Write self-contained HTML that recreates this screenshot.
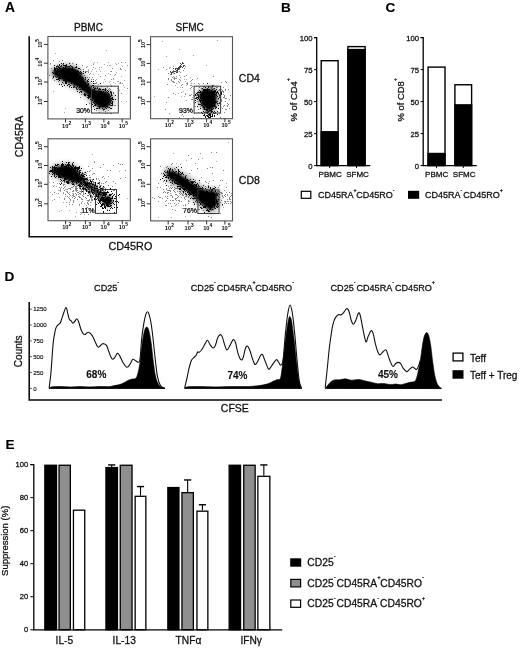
<!DOCTYPE html>
<html><head><meta charset="utf-8"><style>
html,body{margin:0;padding:0;background:#fff;}
svg{display:block;font-family:"Liberation Sans", sans-serif;will-change:transform;}
</style></head><body>
<svg width="520" height="649" viewBox="0 0 520 649">
<defs><filter id="gb" x="0" y="0" width="100%" height="100%"><feGaussianBlur stdDeviation="0.3"/></filter></defs>
<g filter="url(#gb)">
<rect width="520" height="649" fill="#fff"/>
<text x="4.9" y="12.4" font-size="13.8" text-anchor="start" font-weight="bold" fill="#000" stroke="#000" stroke-width="0.12">A</text>
<text x="74" y="30.5" font-size="10" text-anchor="start" fill="#111" stroke="#111" stroke-width="0.28">PBMC</text>
<text x="175.5" y="30.5" font-size="10" text-anchor="start" fill="#111" stroke="#111" stroke-width="0.28">SFMC</text>
<text x="238.8" y="82" font-size="10.5" text-anchor="start" fill="#111" stroke="#111" stroke-width="0.28">CD4</text>
<text x="238.8" y="184" font-size="10.5" text-anchor="start" fill="#111" stroke="#111" stroke-width="0.28">CD8</text>
<text x="22.6" y="136.4" font-size="10.5" text-anchor="middle" fill="#111" transform="rotate(-90 22.6 136.4)" stroke="#111" stroke-width="0.28">CD45RA</text>
<text x="108.5" y="250" font-size="10.8" text-anchor="start" fill="#111" stroke="#111" stroke-width="0.28">CD45RO</text>
<path d="M29.2 36.2V236.7H232.6" fill="none" stroke="#111" stroke-width="1.6"/>
<defs><filter id="bl" x="-5%" y="-5%" width="110%" height="110%"><feGaussianBlur stdDeviation="0.55"/></filter><filter id="bl2" x="-20%" y="-20%" width="140%" height="140%"><feGaussianBlur stdDeviation="1.1"/></filter><filter id="bl3" x="-30%" y="-30%" width="160%" height="160%"><feGaussianBlur stdDeviation="2.2"/></filter></defs>
<clipPath id="cp4"><rect x="48.4" y="37.0" width="81.5" height="81.4"/></clipPath>
<g clip-path="url(#cp4)">
<g filter="url(#bl)">
<path d="M52 72.5h1M71 74.5h1M99 88.5h1M91 89.5h1M61 71.5h1M66 82.5h1M99 108.5h1M56 72.5h1M112 97.5h1M102 101.5h1M97 108.5h1M108 103.5h1M93 87.5h1M64 65.5h1M94 105.5h1M60 78.5h1M98 97.5h1M112 103.5h1M83 82.5h1M111 98.5h1M68 66.5h1M106 101.5h1M57 66.5h1M77 74.5h1M68 74.5h1M99 94.5h1M53 73.5h1M78 83.5h1M99 107.5h1M79 78.5h1M110 99.5h1M96 94.5h1M62 75.5h1M66 78.5h1M103 102.5h1M66 73.5h1M63 70.5h1M95 105.5h1M75 78.5h1M112 102.5h1M64 78.5h1M63 74.5h1M80 71.5h1M66 65.5h1M58 66.5h1M84 83.5h1M84 94.5h1M81 72.5h1M111 108.5h1M72 69.5h1M78 73.5h1M58 67.5h1M66 64.5h1M84 84.5h1M75 80.5h1M103 93.5h1M101 99.5h1M102 89.5h1M77 79.5h1M77 82.5h1M77 82.5h1M100 92.5h1M65 78.5h1M76 71.5h1M78 78.5h1M68 84.5h1M63 65.5h1M111 103.5h1M105 88.5h1M82 88.5h1M90 93.5h1M83 86.5h1M68 77.5h1M103 89.5h1M62 75.5h1M74 81.5h1M56 68.5h1M64 65.5h1M106 98.5h1M111 93.5h1M100 93.5h1M105 104.5h1M86 94.5h1M111 92.5h1M111 105.5h1M86 71.5h1M65 70.5h1M110 102.5h1M56 66.5h1M65 67.5h1M65 66.5h1M82 79.5h1M55 68.5h1M65 72.5h1M61 65.5h1M99 106.5h1M87 81.5h1M71 79.5h1M95 101.5h1M87 97.5h1M83 94.5h1M95 88.5h1M92 98.5h1M73 80.5h1M59 78.5h1M88 96.5h1M94 88.5h1M73 75.5h1M104 103.5h1M66 75.5h1M76 83.5h1M73 75.5h1M101 99.5h1M67 69.5h1M96 101.5h1M93 102.5h1M76 76.5h1M88 81.5h1M78 74.5h1M71 73.5h1M67 70.5h1M100 98.5h1M69 81.5h1M63 67.5h1M63 72.5h1M112 101.5h1M87 84.5h1M100 102.5h1M78 73.5h1M53 76.5h1M103 103.5h1M72 71.5h1M94 95.5h1M86 104.5h1M80 79.5h1M103 106.5h1M64 80.5h1M100 106.5h1M111 91.5h1M85 72.5h1M74 83.5h1M70 78.5h1M88 95.5h1M107 102.5h1M63 78.5h1M85 86.5h1M69 84.5h1M74 86.5h1M112 99.5h1M68 79.5h1M72 76.5h1M68 73.5h1M90 93.5h1M78 84.5h1M95 100.5h1M96 108.5h1M105 92.5h1M80 82.5h1M107 90.5h1M89 91.5h1M110 105.5h1M88 83.5h1M95 98.5h1M70 71.5h1M63 80.5h1M70 73.5h1M91 99.5h1M87 80.5h1M90 92.5h1M71 79.5h1M87 95.5h1M113 99.5h1M115 95.5h1M52 78.5h1M70 65.5h1M89 96.5h1M89 95.5h1M111 100.5h1M88 83.5h1M56 68.5h1M108 91.5h1M105 96.5h1M102 108.5h1M93 87.5h1M67 66.5h1M56 72.5h1M114 105.5h1M99 89.5h1M83 86.5h1M69 86.5h1M82 81.5h1M93 85.5h1M87 82.5h1M91 94.5h1M109 107.5h1M79 85.5h1M111 95.5h1M91 95.5h1M71 74.5h1M60 66.5h1M54 70.5h1M64 78.5h1M68 77.5h1M56 68.5h1M80 91.5h1M92 100.5h1M70 65.5h1M60 72.5h1M98 101.5h1M72 79.5h1M74 83.5h1M105 103.5h1M85 78.5h1M103 100.5h1M96 93.5h1M82 89.5h1M56 68.5h1M87 82.5h1M99 100.5h1M102 108.5h1M62 82.5h1M93 106.5h1M59 67.5h1M96 94.5h1M58 66.5h1M71 87.5h1M100 99.5h1M75 87.5h1M80 77.5h1M77 91.5h1M66 83.5h1M65 73.5h1M59 64.5h1M76 84.5h1M77 81.5h1M99 98.5h1M82 77.5h1M100 88.5h1M74 79.5h1M110 91.5h1M91 86.5h1M79 80.5h1M57 76.5h1M85 79.5h1M104 109.5h1M66 75.5h1M79 89.5h1M59 84.5h1M72 67.5h1M61 63.5h1M54 67.5h1M94 90.5h1M94 101.5h1M108 96.5h1M92 98.5h1M82 84.5h1M78 83.5h1M62 78.5h1M76 64.5h1M96 100.5h1M58 74.5h1M82 80.5h1M77 73.5h1M107 92.5h1M55 69.5h1M61 84.5h1M108 102.5h1M100 97.5h1M81 74.5h1M77 89.5h1M84 95.5h1M65 79.5h1M65 65.5h1M108 107.5h1M71 70.5h1M54 70.5h1M88 84.5h1M57 66.5h1M63 71.5h1M76 82.5h1M107 106.5h1M73 87.5h1M112 98.5h1M100 94.5h1M77 83.5h1M66 81.5h1M67 77.5h1M87 89.5h1M93 96.5h1M93 89.5h1M58 72.5h1M76 66.5h1M115 99.5h1M102 106.5h1M69 63.5h1M101 86.5h1M96 97.5h1M73 73.5h1M86 90.5h1M83 78.5h1M72 68.5h1M80 79.5h1M108 91.5h1M70 81.5h1M55 69.5h1M75 82.5h1M53 77.5h1M79 77.5h1M85 95.5h1M100 83.5h1M71 72.5h1M56 77.5h1M103 109.5h1M93 95.5h1M111 103.5h1M58 72.5h1M74 82.5h1M97 96.5h1M97 97.5h1M93 96.5h1M74 74.5h1M83 89.5h1M103 91.5h1M105 90.5h1M74 85.5h1M71 83.5h1M85 82.5h1M77 71.5h1M95 94.5h1M87 89.5h1M58 79.5h1M106 108.5h1M56 79.5h1M80 89.5h1M55 76.5h1M99 91.5h1M71 75.5h1M91 100.5h1M81 92.5h1M94 105.5h1M58 74.5h1M57 69.5h1M85 77.5h1M101 95.5h1M77 78.5h1M66 75.5h1M84 95.5h1M109 104.5h1M88 84.5h1M62 72.5h1M63 63.5h1M52 78.5h1M76 87.5h1M91 94.5h1M79 84.5h1M76 67.5h1M100 100.5h1M104 90.5h1M110 108.5h1M62 86.5h1M72 79.5h1M59 65.5h1M70 85.5h1M76 71.5h1M92 85.5h1M84 93.5h1M71 83.5h1M101 91.5h1M78 74.5h1M80 80.5h1M54 65.5h1M67 85.5h1M75 67.5h1M58 78.5h1M99 94.5h1M58 72.5h1M112 105.5h1M69 76.5h1M76 72.5h1M67 69.5h1M65 65.5h1M103 91.5h1M65 70.5h1M78 68.5h1M107 99.5h1M73 82.5h1M91 94.5h1M111 94.5h1M57 79.5h1M88 90.5h1M97 88.5h1M99 96.5h1M106 106.5h1M59 80.5h1M59 79.5h1M79 87.5h1M52 72.5h1M80 78.5h1M98 89.5h1M96 92.5h1M109 94.5h1M99 106.5h1M94 96.5h1M82 89.5h1M101 98.5h1M80 71.5h1M95 102.5h1M69 79.5h1M98 99.5h1M59 68.5h1M83 73.5h1M98 94.5h1M83 85.5h1M66 82.5h1M103 100.5h1M73 82.5h1M65 83.5h1M111 93.5h1M54 68.5h1M80 73.5h1M92 104.5h1M95 99.5h1M88 95.5h1M87 92.5h1M95 97.5h1M65 75.5h1M74 71.5h1M58 75.5h1M88 81.5h1M105 102.5h1M65 82.5h1M85 94.5h1M105 89.5h1M97 99.5h1M61 75.5h1M65 80.5h1M109 100.5h1M110 92.5h1M96 92.5h1M76 87.5h1M65 81.5h1M67 66.5h1M57 66.5h1M112 104.5h1M84 85.5h1M94 109.5h1M95 93.5h1M67 77.5h1M105 104.5h1M96 99.5h1M76 88.5h1M108 93.5h1M91 81.5h1M98 98.5h1M77 86.5h1M80 81.5h1M96 108.5h1M76 84.5h1M95 104.5h1M95 97.5h1M83 87.5h1M58 66.5h1M60 68.5h1M79 92.5h1M94 103.5h1M79 68.5h1M69 68.5h1M105 107.5h1M74 75.5h1M94 89.5h1M100 88.5h1M99 98.5h1M54 70.5h1M102 101.5h1M110 96.5h1M102 94.5h1M84 84.5h1M93 83.5h1M104 105.5h1M74 73.5h1M58 72.5h1M74 77.5h1M69 78.5h1M83 85.5h1M66 82.5h1M64 80.5h1M79 79.5h1M90 99.5h1M89 97.5h1M88 79.5h1M66 66.5h1M100 91.5h1M71 66.5h1M87 87.5h1M88 98.5h1M78 84.5h1M89 92.5h1M78 71.5h1M82 80.5h1M66 76.5h1M83 71.5h1M56 71.5h1M93 81.5h1M88 91.5h1M55 74.5h1M88 97.5h1M93 94.5h1M104 106.5h1M66 65.5h1M54 69.5h1M77 71.5h1M85 83.5h1M79 72.5h1M90 90.5h1M74 74.5h1M66 66.5h1M82 82.5h1M91 109.5h1M98 106.5h1M100 89.5h1M90 93.5h1M59 77.5h1M64 85.5h1M81 91.5h1M75 80.5h1M77 70.5h1M75 74.5h1M63 65.5h1M78 79.5h1M62 78.5h1M59 78.5h1M72 66.5h1M103 89.5h1M100 88.5h1M69 66.5h1M76 73.5h1M81 81.5h1M82 85.5h1M61 65.5h1M74 84.5h1M57 68.5h1M103 99.5h1M101 100.5h1M64 80.5h1M62 77.5h1M76 77.5h1M59 67.5h1M97 87.5h1M90 92.5h1" stroke="#111" stroke-width="1" fill="none"/>
<path d="M95 87.5h1M77 83.5h1M98 90.5h1M106 91.5h1M108 89.5h1M72 74.5h1M55 70.5h1M93 91.5h1M63 83.5h1M70 78.5h1M103 110.5h1M114 105.5h1M91 93.5h1M108 110.5h1M63 68.5h1M50 63.5h1M107 107.5h1M104 102.5h1M59 61.5h1M81 89.5h1M78 88.5h1M98 108.5h1M72 63.5h1M96 97.5h1M96 88.5h1M66 74.5h1M74 87.5h1M69 87.5h1M81 73.5h1M80 72.5h1M72 66.5h1M77 85.5h1M57 65.5h1M62 64.5h1M75 85.5h1M63 64.5h1M102 104.5h1M97 106.5h1M92 102.5h1M99 112.5h1M51 68.5h1M67 66.5h1M76 81.5h1M58 81.5h1M82 73.5h1M75 72.5h1M62 71.5h1M55 71.5h1M94 98.5h1M81 80.5h1M85 78.5h1M109 88.5h1M83 69.5h1M110 113.5h1M98 84.5h1M49 75.5h1M61 75.5h1M108 107.5h1M82 65.5h1M105 111.5h1M62 73.5h1M52 78.5h1M87 82.5h1M88 94.5h1M109 98.5h1M106 99.5h1M68 72.5h1M72 66.5h1M111 113.5h1M105 113.5h1M54 80.5h1M94 87.5h1M94 96.5h1M81 94.5h1M71 73.5h1M96 110.5h1M83 94.5h1M76 89.5h1M104 89.5h1M56 67.5h1M86 94.5h1M62 60.5h1M90 96.5h1M75 87.5h1M113 93.5h1M88 72.5h1M107 113.5h1M84 83.5h1M96 105.5h1M81 83.5h1M74 71.5h1M85 71.5h1M101 104.5h1M61 71.5h1M89 103.5h1M58 77.5h1M71 78.5h1M115 105.5h1M74 85.5h1M112 95.5h1M98 94.5h1M73 85.5h1M91 88.5h1M61 66.5h1M60 73.5h1M73 86.5h1M53 60.5h1M62 69.5h1M87 92.5h1M80 69.5h1M96 98.5h1M59 79.5h1M62 76.5h1M74 81.5h1M80 97.5h1M84 75.5h1M71 76.5h1M82 87.5h1M107 98.5h1M105 75.5h1M112 68.5h1M94 83.5h1M127 65.5h1M113 78.5h1M86 67.5h1M98 84.5h1M90 73.5h1M111 86.5h1M127 88.5h1M93 79.5h1M111 79.5h1M110 74.5h1M95 83.5h1M122 83.5h1M113 92.5h1M95 80.5h1M120 82.5h1M85 78.5h1M120 68.5h1M101 93.5h1M104 79.5h1M110 89.5h1M104 90.5h1M115 74.5h1M111 71.5h1M87 77.5h1M86 71.5h1M121 93.5h1M93 67.5h1M100 76.5h1M91 87.5h1M91 79.5h1M96 82.5h1M89 77.5h1M121 62.5h1M93 64.5h1M120 83.5h1M95 90.5h1M92 77.5h1" stroke="#888" stroke-width="1" fill="none"/>
<path d="M106 89.5h1M55 53.5h1M64 112.5h1M120 69.5h1M53 91.5h1M65 108.5h1M121 101.5h1M110 101.5h1M114 75.5h1M106 50.5h1M104 79.5h1M126 101.5h1M85 96.5h1M95 90.5h1M50 64.5h1M96 83.5h1M124 80.5h1M117 81.5h1M92 69.5h1M110 84.5h1M103 82.5h1M100 71.5h1M93 74.5h1M110 65.5h1M125 62.5h1M116 72.5h1M125 70.5h1M87 82.5h1M101 86.5h1M114 75.5h1M113 82.5h1M99 67.5h1M113 79.5h1M87 66.5h1M104 64.5h1M108 73.5h1M98 84.5h1M116 64.5h1M111 91.5h1M111 91.5h1M95 68.5h1M99 69.5h1M92 69.5h1M107 86.5h1M118 63.5h1M118 81.5h1M97 62.5h1M122 66.5h1M96 71.5h1M119 90.5h1M124 87.5h1M121 76.5h1M88 69.5h1M91 65.5h1M91 71.5h1M88 70.5h1M121 69.5h1M107 87.5h1M86 83.5h1M108 62.5h1M123 85.5h1M90 90.5h1M110 81.5h1M94 62.5h1M115 83.5h1M93 63.5h1M110 71.5h1M100 88.5h1M109 65.5h1M115 83.5h1M109 90.5h1M105 81.5h1M88 71.5h1M98 74.5h1M107 65.5h1M115 63.5h1M96 79.5h1M87 71.5h1M119 83.5h1M101 67.5h1M117 88.5h1M89 74.5h1M109 82.5h1M94 86.5h1M111 85.5h1" stroke="#aaa" stroke-width="1" fill="none"/>
</g>
<g filter="url(#bl3)"><path d="M52.8 71.3L57.1 68.7L62.3 67.0L69.2 67.0L74.4 67.9L77.9 70.5L81.3 74.8L85.7 80.9L90.0 86.0L92.6 89.5L100.4 90.4L107.3 92.1L110.8 95.6L111.6 100.8L109.9 105.1L106.4 107.7L100.4 107.7L95.2 104.2L91.7 99.0L86.5 93.8L81.3 89.5L76.2 86.0L71.0 83.5L64.0 80.9L58.0 77.4L53.7 74.8Z" fill="#000" stroke="#000" stroke-width="7" stroke-linejoin="round" opacity="0.28"/></g>
<g filter="url(#bl2)"><path d="M52.8 71.3L57.1 68.7L62.3 67.0L69.2 67.0L74.4 67.9L77.9 70.5L81.3 74.8L85.7 80.9L90.0 86.0L92.6 89.5L100.4 90.4L107.3 92.1L110.8 95.6L111.6 100.8L109.9 105.1L106.4 107.7L100.4 107.7L95.2 104.2L91.7 99.0L86.5 93.8L81.3 89.5L76.2 86.0L71.0 83.5L64.0 80.9L58.0 77.4L53.7 74.8Z" fill="#000"/></g>
</g>
<rect x="47.9" y="36.5" width="82.5" height="82.4" fill="none" stroke="#555" stroke-width="1.1"/>
<rect x="91.4" y="86.2" width="26.89999999999999" height="26.799999999999997" fill="none" stroke="#3a3a3a" stroke-width="1"/>
<text x="76.2" y="112.9" font-size="6.9" text-anchor="start" fill="#000" stroke="#000" stroke-width="0.22">30%</text>
<line x1="65.5" y1="118.9" x2="65.5" y2="122.5" stroke="#333" stroke-width="1"/>
<text x="65.2" y="127.6" font-size="5.7" font-weight="bold" text-anchor="middle" fill="#111">10</text><text x="68.5" y="124.6" font-size="4.8" font-weight="bold" fill="#000">2</text>
<line x1="85.3" y1="118.9" x2="85.3" y2="122.5" stroke="#333" stroke-width="1"/>
<text x="85.0" y="127.6" font-size="5.7" font-weight="bold" text-anchor="middle" fill="#111">10</text><text x="88.3" y="124.6" font-size="4.8" font-weight="bold" fill="#000">3</text>
<line x1="103.9" y1="118.9" x2="103.9" y2="122.5" stroke="#333" stroke-width="1"/>
<text x="103.6" y="127.6" font-size="5.7" font-weight="bold" text-anchor="middle" fill="#111">10</text><text x="106.9" y="124.6" font-size="4.8" font-weight="bold" fill="#000">4</text>
<line x1="122.19999999999999" y1="118.9" x2="122.19999999999999" y2="122.5" stroke="#333" stroke-width="1"/>
<text x="121.9" y="127.6" font-size="5.7" font-weight="bold" text-anchor="middle" fill="#111">10</text><text x="125.2" y="124.6" font-size="4.8" font-weight="bold" fill="#000">5</text>
<line x1="43.9" y1="44.4" x2="47.9" y2="44.4" stroke="#333" stroke-width="1"/>
<g transform="translate(42.3 44.7) rotate(-90)"><text x="0" y="0" font-size="5.7" font-weight="bold" text-anchor="middle" fill="#111">10</text><text x="3.0" y="-3.0" font-size="4.8" font-weight="bold" fill="#000">5</text></g>
<line x1="43.9" y1="63.2" x2="47.9" y2="63.2" stroke="#333" stroke-width="1"/>
<g transform="translate(42.3 63.5) rotate(-90)"><text x="0" y="0" font-size="5.7" font-weight="bold" text-anchor="middle" fill="#111">10</text><text x="3.0" y="-3.0" font-size="4.8" font-weight="bold" fill="#000">4</text></g>
<line x1="43.9" y1="82.0" x2="47.9" y2="82.0" stroke="#333" stroke-width="1"/>
<g transform="translate(42.3 82.3) rotate(-90)"><text x="0" y="0" font-size="5.7" font-weight="bold" text-anchor="middle" fill="#111">10</text><text x="3.0" y="-3.0" font-size="4.8" font-weight="bold" fill="#000">3</text></g>
<line x1="43.9" y1="101.5" x2="47.9" y2="101.5" stroke="#333" stroke-width="1"/>
<g transform="translate(42.3 101.8) rotate(-90)"><text x="0" y="0" font-size="5.7" font-weight="bold" text-anchor="middle" fill="#111">10</text><text x="3.0" y="-3.0" font-size="4.8" font-weight="bold" fill="#000">2</text></g>
<clipPath id="cs4"><rect x="151.1" y="37.2" width="80.9" height="81.0"/></clipPath>
<g clip-path="url(#cs4)">
<g filter="url(#bl)">
<path d="M210 98.5h1M212 93.5h1M205 111.5h1M198 94.5h1M210 96.5h1M199 99.5h1M212 103.5h1M216 92.5h1M203 109.5h1M212 94.5h1M209 110.5h1M207 113.5h1M198 94.5h1M219 96.5h1M201 104.5h1M221 93.5h1M200 106.5h1M203 89.5h1M197 99.5h1M200 101.5h1M199 92.5h1M204 107.5h1M214 94.5h1M212 93.5h1M202 100.5h1M210 113.5h1M203 93.5h1M209 106.5h1M204 95.5h1M204 91.5h1M215 94.5h1M217 101.5h1M206 90.5h1M201 103.5h1M203 90.5h1M215 102.5h1M201 112.5h1M203 111.5h1M206 110.5h1M209 95.5h1M202 97.5h1M194 96.5h1M215 108.5h1M204 97.5h1M206 89.5h1M213 95.5h1M199 100.5h1M204 108.5h1M200 92.5h1M198 104.5h1M219 103.5h1M203 96.5h1M207 89.5h1M205 87.5h1M208 111.5h1M207 104.5h1M195 98.5h1M214 102.5h1M205 105.5h1M195 95.5h1M196 97.5h1M205 109.5h1M208 107.5h1M209 98.5h1M214 104.5h1M205 102.5h1M203 99.5h1M214 96.5h1M197 92.5h1M195 102.5h1M210 94.5h1M209 93.5h1M205 97.5h1M215 90.5h1M204 90.5h1M197 94.5h1M211 99.5h1M208 87.5h1M199 90.5h1M200 101.5h1M203 90.5h1M200 104.5h1M214 99.5h1M209 97.5h1M211 102.5h1M212 94.5h1M200 92.5h1M210 95.5h1M215 91.5h1M198 98.5h1M216 97.5h1M209 86.5h1M209 106.5h1M210 103.5h1M198 97.5h1M216 97.5h1M201 105.5h1M203 106.5h1M206 105.5h1M203 104.5h1M202 105.5h1M198 98.5h1M204 96.5h1M215 91.5h1M210 110.5h1M211 109.5h1M206 101.5h1M214 90.5h1M197 97.5h1M220 96.5h1M218 108.5h1M207 90.5h1M204 105.5h1M213 88.5h1M196 97.5h1M206 96.5h1M211 106.5h1M216 97.5h1M198 98.5h1M212 85.5h1M208 98.5h1M212 94.5h1M207 110.5h1M209 95.5h1M214 88.5h1M202 103.5h1M205 89.5h1M213 96.5h1M201 100.5h1M208 102.5h1M206 92.5h1M203 97.5h1M207 111.5h1M216 102.5h1M197 106.5h1M207 92.5h1M201 100.5h1M197 97.5h1M199 104.5h1M198 94.5h1M211 99.5h1M209 89.5h1M198 94.5h1M206 109.5h1M205 105.5h1M217 92.5h1M215 104.5h1M217 104.5h1M212 97.5h1M206 99.5h1M209 97.5h1M207 113.5h1M207 99.5h1M208 89.5h1M208 111.5h1M202 97.5h1M200 97.5h1M211 110.5h1M200 102.5h1M211 94.5h1M203 90.5h1M216 97.5h1M214 106.5h1M207 109.5h1M216 107.5h1M209 107.5h1M206 110.5h1M198 92.5h1M209 103.5h1M208 98.5h1M205 98.5h1M215 102.5h1M208 86.5h1M202 106.5h1M202 93.5h1M213 103.5h1M207 105.5h1M204 94.5h1M205 101.5h1M212 98.5h1M209 92.5h1M206 96.5h1M206 112.5h1M214 91.5h1M206 93.5h1M205 90.5h1M205 98.5h1M201 104.5h1M203 95.5h1M207 90.5h1M212 106.5h1M219 95.5h1M218 105.5h1M221 92.5h1M210 110.5h1M210 105.5h1M203 94.5h1M215 104.5h1M213 92.5h1M198 95.5h1M202 88.5h1M202 113.5h1M200 100.5h1M195 100.5h1M213 97.5h1M216 89.5h1M207 88.5h1M207 91.5h1M195 94.5h1M207 97.5h1M205 93.5h1M204 86.5h1M213 96.5h1M205 92.5h1M199 90.5h1M219 97.5h1M206 106.5h1M206 95.5h1M200 94.5h1M217 91.5h1M201 104.5h1M213 105.5h1M216 97.5h1M206 110.5h1M204 94.5h1M199 100.5h1M204 112.5h1M214 92.5h1M212 91.5h1M203 90.5h1M218 93.5h1M213 112.5h1M208 95.5h1M217 92.5h1M205 93.5h1M208 92.5h1M208 93.5h1M212 98.5h1M217 111.5h1M200 91.5h1M214 105.5h1M201 96.5h1M211 98.5h1M217 96.5h1M206 101.5h1M202 88.5h1M203 108.5h1M207 90.5h1M209 101.5h1M207 89.5h1M210 105.5h1M211 93.5h1M207 83.5h1M198 96.5h1M212 93.5h1M205 89.5h1M202 88.5h1M213 98.5h1M200 98.5h1M209 105.5h1M207 89.5h1M214 103.5h1M199 99.5h1M201 94.5h1M202 102.5h1M210 106.5h1M212 89.5h1M221 94.5h1M210 110.5h1M212 86.5h1M200 91.5h1M201 95.5h1M205 93.5h1M207 94.5h1M211 88.5h1M213 105.5h1M203 107.5h1M213 108.5h1M211 87.5h1M209 110.5h1M210 93.5h1M200 101.5h1M207 88.5h1M196 93.5h1M213 108.5h1M216 94.5h1M206 91.5h1M217 103.5h1M208 102.5h1M215 106.5h1M203 98.5h1M212 109.5h1M206 94.5h1M211 94.5h1M204 94.5h1M216 94.5h1M196 98.5h1M209 91.5h1M210 95.5h1M216 93.5h1M204 100.5h1M215 94.5h1M203 103.5h1M207 99.5h1M200 108.5h1M204 109.5h1M208 94.5h1M203 95.5h1M203 104.5h1M207 95.5h1M204 100.5h1M216 95.5h1M202 92.5h1M218 98.5h1M215 101.5h1M220 94.5h1M199 99.5h1M204 89.5h1M204 109.5h1M211 103.5h1M203 115.5h1M214 113.5h1M211 116.5h1M205 117.5h1M211 116.5h1M207 116.5h1M209 114.5h1M210 115.5h1M204 114.5h1M211 111.5h1M212 114.5h1M206 112.5h1M205 116.5h1M207 115.5h1M208 116.5h1M214 116.5h1M212 116.5h1M215 112.5h1M210 113.5h1M210 114.5h1M210 116.5h1M205 109.5h1M210 116.5h1M208 117.5h1M217 114.5h1M209 115.5h1M212 111.5h1M211 110.5h1M206 115.5h1M211 112.5h1M210 117.5h1M204 115.5h1M214 111.5h1M214 115.5h1M208 114.5h1M209 114.5h1M209 113.5h1M209 117.5h1M207 112.5h1M212 115.5h1M211 112.5h1M208 116.5h1" stroke="#111" stroke-width="1" fill="none"/>
<path d="M170 74.5h1M182 62.5h1M173 70.5h1M180 63.5h1M177 71.5h1M177 68.5h1M178 69.5h1M177 70.5h1M180 65.5h1M183 63.5h1M171 74.5h1M184 65.5h1M175 68.5h1M174 73.5h1M182 67.5h1M183 65.5h1M178 68.5h1M181 66.5h1M174 73.5h1M171 73.5h1M180 66.5h1M168 73.5h1M173 68.5h1M171 74.5h1M175 69.5h1M177 71.5h1M173 70.5h1M170 74.5h1M174 71.5h1M175 71.5h1M173 70.5h1M174 73.5h1M183 65.5h1M180 67.5h1M178 67.5h1M180 67.5h1M175 71.5h1M170 71.5h1M179 67.5h1M183 66.5h1M179 68.5h1M173 71.5h1M176 68.5h1M174 73.5h1M172 72.5h1M172 72.5h1M171 73.5h1M173 71.5h1M181 64.5h1M174 71.5h1M177 69.5h1M171 72.5h1M172 72.5h1M182 63.5h1M172 72.5h1M173 70.5h1M179 66.5h1M176 70.5h1M177 72.5h1M176 72.5h1" stroke="#444" stroke-width="1" fill="none"/>
<path d="M211 99.5h1M213 94.5h1M208 94.5h1M214 96.5h1M217 87.5h1M224 96.5h1M198 103.5h1M215 105.5h1M212 92.5h1M206 105.5h1M202 103.5h1M202 104.5h1M213 99.5h1M215 107.5h1M220 95.5h1M209 100.5h1M202 94.5h1M203 87.5h1M198 94.5h1M219 96.5h1M198 91.5h1M208 112.5h1M199 87.5h1M209 111.5h1M213 76.5h1M211 108.5h1M210 111.5h1M216 94.5h1M205 112.5h1M218 90.5h1M213 88.5h1M213 85.5h1M218 92.5h1M213 92.5h1M213 91.5h1M203 95.5h1M196 95.5h1M223 97.5h1M201 104.5h1M207 111.5h1M194 103.5h1M202 92.5h1M213 113.5h1M192 99.5h1M210 93.5h1M205 103.5h1M213 103.5h1M206 93.5h1M217 104.5h1M191 94.5h1M208 98.5h1M216 87.5h1M213 106.5h1M198 101.5h1M214 90.5h1M199 96.5h1M204 98.5h1M218 94.5h1M202 107.5h1M200 106.5h1M202 106.5h1M215 105.5h1M211 88.5h1M227 106.5h1M211 100.5h1M210 87.5h1M203 95.5h1M198 109.5h1M194 92.5h1M211 87.5h1M216 101.5h1M202 97.5h1M224 112.5h1M210 100.5h1M205 100.5h1M219 113.5h1M219 102.5h1M203 109.5h1M213 105.5h1M216 97.5h1M206 111.5h1M215 103.5h1M205 111.5h1M197 93.5h1M216 106.5h1M218 99.5h1M220 89.5h1M173 76.5h1M186 75.5h1M174 79.5h1M176 76.5h1M173 66.5h1M184 68.5h1M170 72.5h1M170 74.5h1M176 71.5h1M172 77.5h1M184 76.5h1M168 78.5h1M176 78.5h1M179 69.5h1M166 69.5h1M183 70.5h1M185 66.5h1M179 71.5h1M168 73.5h1M173 70.5h1M163 67.5h1M172 71.5h1M171 80.5h1M173 72.5h1M174 77.5h1M180 72.5h1M190 88.5h1M178 81.5h1M173 81.5h1M192 79.5h1M173 82.5h1M187 84.5h1M174 78.5h1M191 80.5h1M191 87.5h1M167 84.5h1M180 77.5h1M176 78.5h1M191 85.5h1M179 82.5h1M186 83.5h1M172 81.5h1M190 95.5h1M174 79.5h1M180 80.5h1M179 79.5h1M168 79.5h1M191 94.5h1M197 78.5h1M176 76.5h1M196 95.5h1M190 85.5h1M198 83.5h1M197 95.5h1M182 87.5h1M191 83.5h1M180 80.5h1M185 94.5h1M171 79.5h1M182 84.5h1M187 83.5h1M174 82.5h1M194 96.5h1M181 85.5h1M192 86.5h1M221 82.5h1M212 87.5h1M190 81.5h1M223 87.5h1M190 111.5h1M191 99.5h1M203 108.5h1M194 113.5h1M179 117.5h1M165 109.5h1M198 112.5h1M175 78.5h1M215 92.5h1M182 111.5h1M203 83.5h1M202 100.5h1M168 97.5h1M203 83.5h1M223 91.5h1M201 88.5h1M193 117.5h1M189 95.5h1M181 92.5h1M183 116.5h1M225 81.5h1M215 113.5h1M208 115.5h1M182 114.5h1M215 104.5h1M195 106.5h1M226 82.5h1M166 102.5h1M169 113.5h1M220 117.5h1M173 93.5h1M218 103.5h1M219 90.5h1M220 91.5h1M229 108.5h1M227 103.5h1M223 92.5h1M220 89.5h1M219 94.5h1M225 89.5h1M225 98.5h1M221 89.5h1M223 106.5h1M227 103.5h1M221 91.5h1M228 89.5h1M224 95.5h1M220 89.5h1M221 100.5h1M224 105.5h1M226 109.5h1M220 94.5h1M222 91.5h1M221 99.5h1M223 94.5h1M228 104.5h1M229 99.5h1M225 101.5h1M230 95.5h1M229 99.5h1M227 105.5h1M221 101.5h1M223 91.5h1M222 108.5h1M222 90.5h1M226 98.5h1M225 90.5h1M224 97.5h1M225 98.5h1M225 109.5h1M219 89.5h1" stroke="#888" stroke-width="1" fill="none"/>
<path d="M179 49.5h1M154 96.5h1M217 40.5h1M166 56.5h1M181 115.5h1M158 69.5h1M193 55.5h1M178 93.5h1M205 100.5h1M206 65.5h1M162 41.5h1M203 100.5h1M196 86.5h1M169 67.5h1M180 87.5h1M193 95.5h1M181 96.5h1M199 84.5h1M198 103.5h1M184 96.5h1M183 91.5h1M197 101.5h1M186 100.5h1M170 67.5h1M177 87.5h1M190 77.5h1M186 79.5h1M176 83.5h1M185 81.5h1M173 73.5h1M194 83.5h1M187 82.5h1M175 85.5h1M186 85.5h1M179 75.5h1M184 79.5h1M169 68.5h1M185 93.5h1M192 97.5h1M173 78.5h1M175 94.5h1M199 84.5h1" stroke="#aaa" stroke-width="1" fill="none"/>
</g>
<g filter="url(#bl3)"><path d="M200.0 93.1L202.0 90.8L205.4 89.6L210.0 89.5L214.6 90.0L216.4 95.4L216.4 101.5L214.2 107.2L210.2 110.5L207.5 110.6L203.8 106.8L200.8 101.5L199.2 96.2Z" fill="#000" stroke="#000" stroke-width="7" stroke-linejoin="round" opacity="0.28"/></g>
<g filter="url(#bl2)"><path d="M200.0 93.1L202.0 90.8L205.4 89.6L210.0 89.5L214.6 90.0L216.4 95.4L216.4 101.5L214.2 107.2L210.2 110.5L207.5 110.6L203.8 106.8L200.8 101.5L199.2 96.2Z" fill="#000"/></g>
</g>
<rect x="150.6" y="36.7" width="81.9" height="82.0" fill="none" stroke="#555" stroke-width="1.1"/>
<rect x="194.1" y="86.2" width="26.5" height="26.799999999999997" fill="none" stroke="#3a3a3a" stroke-width="1"/>
<text x="179.1" y="112.6" font-size="6.9" text-anchor="start" fill="#000" stroke="#000" stroke-width="0.22">93%</text>
<line x1="168.2" y1="118.7" x2="168.2" y2="122.3" stroke="#333" stroke-width="1"/>
<text x="167.9" y="127.4" font-size="5.7" font-weight="bold" text-anchor="middle" fill="#111">10</text><text x="171.2" y="124.4" font-size="4.8" font-weight="bold" fill="#000">2</text>
<line x1="188.0" y1="118.7" x2="188.0" y2="122.3" stroke="#333" stroke-width="1"/>
<text x="187.7" y="127.4" font-size="5.7" font-weight="bold" text-anchor="middle" fill="#111">10</text><text x="191.0" y="124.4" font-size="4.8" font-weight="bold" fill="#000">3</text>
<line x1="206.6" y1="118.7" x2="206.6" y2="122.3" stroke="#333" stroke-width="1"/>
<text x="206.3" y="127.4" font-size="5.7" font-weight="bold" text-anchor="middle" fill="#111">10</text><text x="209.6" y="124.4" font-size="4.8" font-weight="bold" fill="#000">4</text>
<line x1="224.89999999999998" y1="118.7" x2="224.89999999999998" y2="122.3" stroke="#333" stroke-width="1"/>
<text x="224.6" y="127.4" font-size="5.7" font-weight="bold" text-anchor="middle" fill="#111">10</text><text x="227.9" y="124.4" font-size="4.8" font-weight="bold" fill="#000">5</text>
<line x1="146.6" y1="44.6" x2="150.6" y2="44.6" stroke="#333" stroke-width="1"/>
<g transform="translate(145.0 44.9) rotate(-90)"><text x="0" y="0" font-size="5.7" font-weight="bold" text-anchor="middle" fill="#111">10</text><text x="3.0" y="-3.0" font-size="4.8" font-weight="bold" fill="#000">5</text></g>
<line x1="146.6" y1="63.400000000000006" x2="150.6" y2="63.400000000000006" stroke="#333" stroke-width="1"/>
<g transform="translate(145.0 63.7) rotate(-90)"><text x="0" y="0" font-size="5.7" font-weight="bold" text-anchor="middle" fill="#111">10</text><text x="3.0" y="-3.0" font-size="4.8" font-weight="bold" fill="#000">4</text></g>
<line x1="146.6" y1="82.2" x2="150.6" y2="82.2" stroke="#333" stroke-width="1"/>
<g transform="translate(145.0 82.5) rotate(-90)"><text x="0" y="0" font-size="5.7" font-weight="bold" text-anchor="middle" fill="#111">10</text><text x="3.0" y="-3.0" font-size="4.8" font-weight="bold" fill="#000">3</text></g>
<line x1="146.6" y1="101.7" x2="150.6" y2="101.7" stroke="#333" stroke-width="1"/>
<g transform="translate(145.0 102.0) rotate(-90)"><text x="0" y="0" font-size="5.7" font-weight="bold" text-anchor="middle" fill="#111">10</text><text x="3.0" y="-3.0" font-size="4.8" font-weight="bold" fill="#000">2</text></g>
<clipPath id="cp8"><rect x="48.5" y="139.3" width="81.30000000000001" height="80.89999999999998"/></clipPath>
<g clip-path="url(#cp8)">
<g filter="url(#bl)">
<path d="M77 173.5h1M59 177.5h1M66 181.5h1M53 167.5h1M65 177.5h1M80 182.5h1M76 174.5h1M72 163.5h1M55 167.5h1M73 180.5h1M57 168.5h1M61 174.5h1M73 170.5h1M68 166.5h1M80 172.5h1M65 171.5h1M66 165.5h1M56 165.5h1M62 163.5h1M82 175.5h1M74 174.5h1M79 167.5h1M68 183.5h1M65 178.5h1M82 180.5h1M54 169.5h1M74 184.5h1M56 171.5h1M73 184.5h1M78 167.5h1M59 172.5h1M85 174.5h1M58 177.5h1M58 175.5h1M69 170.5h1M73 181.5h1M60 173.5h1M61 164.5h1M75 173.5h1M76 180.5h1M63 175.5h1M52 168.5h1M62 175.5h1M52 170.5h1M54 172.5h1M72 168.5h1M78 175.5h1M71 174.5h1M50 171.5h1M83 175.5h1M79 171.5h1M77 173.5h1M57 172.5h1M51 170.5h1M74 177.5h1M72 170.5h1M56 176.5h1M62 164.5h1M73 165.5h1M67 181.5h1M56 172.5h1M58 171.5h1M67 175.5h1M64 169.5h1M68 167.5h1M72 168.5h1M56 176.5h1M57 171.5h1M68 183.5h1M74 174.5h1M66 179.5h1M69 176.5h1M75 174.5h1M60 176.5h1M67 183.5h1M64 176.5h1M82 172.5h1M81 175.5h1M64 172.5h1M77 171.5h1M79 180.5h1M58 171.5h1M80 178.5h1M77 179.5h1M72 181.5h1M76 173.5h1M65 168.5h1M67 182.5h1M61 172.5h1M61 166.5h1M77 180.5h1M58 174.5h1M79 171.5h1M63 173.5h1M67 167.5h1M66 181.5h1M77 174.5h1M61 167.5h1M54 176.5h1M78 175.5h1M74 179.5h1M77 170.5h1M50 167.5h1M66 162.5h1M72 164.5h1M79 170.5h1M64 168.5h1M68 175.5h1M55 172.5h1M50 170.5h1M61 174.5h1M74 180.5h1M59 170.5h1M76 167.5h1M61 168.5h1M74 180.5h1M67 173.5h1M66 178.5h1M55 165.5h1M57 174.5h1M68 183.5h1M54 168.5h1M54 167.5h1M62 176.5h1M76 183.5h1M67 168.5h1M70 173.5h1M71 170.5h1M57 174.5h1M60 177.5h1M80 170.5h1M63 174.5h1M69 180.5h1M64 166.5h1M66 171.5h1M70 170.5h1M69 173.5h1M79 166.5h1M63 164.5h1M59 176.5h1M78 176.5h1M68 175.5h1M65 173.5h1M79 167.5h1M59 172.5h1M57 164.5h1M55 164.5h1M72 177.5h1M58 169.5h1M62 168.5h1M58 176.5h1M66 166.5h1M74 177.5h1M57 172.5h1M71 181.5h1M66 175.5h1M69 167.5h1M73 181.5h1M52 168.5h1M64 168.5h1M68 172.5h1M64 181.5h1M68 170.5h1M66 173.5h1M63 172.5h1M68 176.5h1M78 181.5h1M64 180.5h1M80 175.5h1M72 171.5h1M72 181.5h1M59 175.5h1M78 168.5h1M60 168.5h1M51 176.5h1M61 180.5h1M61 182.5h1M59 170.5h1M78 169.5h1M68 174.5h1M70 165.5h1M52 167.5h1M74 178.5h1M76 168.5h1M82 178.5h1M51 171.5h1M60 179.5h1M70 176.5h1M63 175.5h1M63 165.5h1M54 175.5h1M68 165.5h1M76 176.5h1M63 165.5h1M73 175.5h1M69 178.5h1M77 171.5h1M77 176.5h1M77 182.5h1M59 172.5h1M63 170.5h1M80 172.5h1M61 183.5h1M69 182.5h1M71 166.5h1M60 172.5h1M70 168.5h1M61 172.5h1M56 172.5h1M61 173.5h1M73 162.5h1M62 164.5h1M80 180.5h1M70 173.5h1M74 167.5h1M54 167.5h1M63 171.5h1M49 171.5h1M79 182.5h1M63 176.5h1M79 185.5h1M52 168.5h1M67 181.5h1M63 169.5h1M59 173.5h1M55 172.5h1M58 171.5h1M84 174.5h1M56 171.5h1M68 181.5h1M71 168.5h1M68 168.5h1M63 174.5h1M62 165.5h1M72 170.5h1M61 171.5h1M65 167.5h1M64 181.5h1M66 165.5h1M77 167.5h1M69 170.5h1M67 164.5h1M57 170.5h1M61 168.5h1M80 176.5h1M58 175.5h1M68 167.5h1M62 174.5h1M67 164.5h1M52 171.5h1M63 169.5h1M67 177.5h1M61 170.5h1M75 167.5h1M67 165.5h1M74 167.5h1M51 170.5h1M54 169.5h1M68 183.5h1M67 164.5h1M62 166.5h1M70 174.5h1M56 174.5h1M75 168.5h1M65 167.5h1M65 171.5h1M74 179.5h1M57 168.5h1M62 173.5h1M75 181.5h1M80 172.5h1M66 170.5h1M67 176.5h1M77 177.5h1M74 168.5h1M71 181.5h1M61 164.5h1M52 174.5h1M74 172.5h1M72 184.5h1M54 173.5h1M66 167.5h1M75 169.5h1M57 171.5h1M72 164.5h1M81 178.5h1M59 172.5h1M71 177.5h1M83 173.5h1M57 165.5h1M78 185.5h1M69 176.5h1M70 166.5h1M60 177.5h1M62 161.5h1M52 166.5h1M73 166.5h1M66 167.5h1M76 177.5h1M72 165.5h1M78 177.5h1M62 176.5h1M69 162.5h1M73 184.5h1M56 167.5h1M65 166.5h1M68 169.5h1M70 168.5h1M58 164.5h1M65 179.5h1M69 164.5h1M80 180.5h1M60 176.5h1M68 163.5h1M75 166.5h1M56 169.5h1M63 172.5h1M77 168.5h1M64 178.5h1M64 179.5h1M81 182.5h1M74 178.5h1M72 173.5h1M76 182.5h1M53 173.5h1M54 173.5h1M68 176.5h1M66 165.5h1M62 170.5h1M55 168.5h1M63 180.5h1M72 170.5h1M57 169.5h1M55 177.5h1M73 174.5h1M61 164.5h1M72 163.5h1M54 166.5h1M72 184.5h1M65 171.5h1M54 170.5h1M52 169.5h1M69 165.5h1M57 170.5h1M62 171.5h1M71 167.5h1M62 172.5h1M60 184.5h1M81 176.5h1M78 179.5h1M76 183.5h1M79 172.5h1M68 162.5h1M68 164.5h1M80 177.5h1M54 170.5h1M63 176.5h1M72 183.5h1M63 176.5h1M72 182.5h1M49 173.5h1M75 170.5h1M66 170.5h1M81 168.5h1M69 178.5h1M56 169.5h1M68 174.5h1M58 172.5h1M58 172.5h1M64 174.5h1M79 174.5h1M61 165.5h1M76 179.5h1M85 179.5h1M80 176.5h1M76 168.5h1M70 179.5h1M74 174.5h1M67 172.5h1M57 170.5h1M59 170.5h1M81 177.5h1M57 171.5h1M77 169.5h1M59 176.5h1M51 171.5h1M65 174.5h1M85 172.5h1M66 182.5h1M79 173.5h1M79 168.5h1M68 182.5h1M73 178.5h1M63 171.5h1M55 170.5h1M52 172.5h1M66 173.5h1M61 172.5h1M65 164.5h1M57 170.5h1M60 177.5h1M72 167.5h1M54 174.5h1M72 176.5h1M59 170.5h1M61 174.5h1M78 182.5h1M61 165.5h1M67 181.5h1M67 165.5h1M70 175.5h1M66 173.5h1M69 169.5h1M72 176.5h1M75 182.5h1M61 177.5h1M79 172.5h1M73 175.5h1M63 173.5h1M61 177.5h1M80 178.5h1M102 194.5h1M102 198.5h1M73 183.5h1M95 191.5h1M97 185.5h1M81 183.5h1M90 180.5h1M89 183.5h1M77 183.5h1M100 190.5h1M89 186.5h1M89 183.5h1M79 182.5h1M87 180.5h1M79 177.5h1M92 185.5h1M79 179.5h1M88 188.5h1M80 177.5h1M85 178.5h1M88 187.5h1M100 190.5h1M107 192.5h1M100 195.5h1M95 193.5h1M100 199.5h1M87 179.5h1M93 184.5h1M95 187.5h1M94 191.5h1M88 189.5h1M79 181.5h1M87 190.5h1M86 191.5h1M94 186.5h1M92 191.5h1M99 182.5h1M87 190.5h1M77 181.5h1M84 185.5h1M90 195.5h1M91 191.5h1M102 196.5h1M82 179.5h1M80 182.5h1M81 180.5h1M87 180.5h1M101 189.5h1M80 181.5h1M78 177.5h1M99 195.5h1M86 189.5h1M82 186.5h1M101 189.5h1M83 176.5h1M96 194.5h1M94 199.5h1M78 178.5h1M88 195.5h1M89 185.5h1M91 187.5h1M89 186.5h1M94 190.5h1M90 183.5h1M96 194.5h1M84 179.5h1M82 176.5h1M93 185.5h1M84 180.5h1M89 184.5h1M80 185.5h1M81 180.5h1M76 182.5h1M81 178.5h1M98 195.5h1M97 189.5h1M84 180.5h1M83 190.5h1M93 187.5h1M101 189.5h1M79 177.5h1M97 198.5h1M100 192.5h1M92 190.5h1M87 187.5h1M93 189.5h1M94 190.5h1M92 185.5h1M91 192.5h1M97 189.5h1M103 186.5h1M97 198.5h1M83 184.5h1M99 196.5h1M89 190.5h1M80 176.5h1M86 175.5h1M83 182.5h1M91 190.5h1M81 175.5h1M87 180.5h1M94 190.5h1M83 188.5h1M79 181.5h1M95 193.5h1M99 201.5h1M81 182.5h1M101 192.5h1M99 194.5h1M100 191.5h1M95 192.5h1M83 191.5h1M95 187.5h1M98 196.5h1M86 187.5h1M89 183.5h1M79 186.5h1M77 183.5h1M78 178.5h1M102 194.5h1M89 184.5h1M99 197.5h1M88 189.5h1M91 189.5h1M93 187.5h1M83 180.5h1M80 180.5h1M92 188.5h1M81 175.5h1M92 192.5h1M82 174.5h1M94 196.5h1M89 187.5h1M80 178.5h1M95 194.5h1M89 182.5h1M77 179.5h1M78 176.5h1M87 191.5h1M79 184.5h1M89 190.5h1M82 173.5h1M85 193.5h1M101 196.5h1M83 182.5h1M99 196.5h1M87 185.5h1M98 191.5h1M92 190.5h1M90 186.5h1M96 191.5h1M86 189.5h1M86 190.5h1M93 192.5h1M92 190.5h1M92 190.5h1M95 188.5h1M94 193.5h1M95 191.5h1M77 179.5h1M89 182.5h1M88 187.5h1M90 184.5h1M95 189.5h1M99 197.5h1M97 196.5h1M89 184.5h1M82 181.5h1M97 191.5h1M93 189.5h1M81 179.5h1M91 187.5h1M99 197.5h1M86 185.5h1M83 184.5h1M86 183.5h1M94 189.5h1M95 188.5h1M80 175.5h1M92 186.5h1M93 194.5h1M92 184.5h1M104 194.5h1M97 189.5h1M82 177.5h1M81 177.5h1M87 182.5h1M84 183.5h1M79 183.5h1M86 183.5h1M101 196.5h1M107 191.5h1M99 187.5h1M98 191.5h1M94 198.5h1M84 184.5h1M89 190.5h1M93 186.5h1M93 190.5h1M100 199.5h1M99 191.5h1M99 199.5h1M95 191.5h1M74 184.5h1M101 196.5h1M83 186.5h1M96 191.5h1M86 191.5h1M89 193.5h1M89 189.5h1M96 192.5h1M104 193.5h1M102 189.5h1M95 188.5h1M81 183.5h1M100 191.5h1M80 186.5h1M78 181.5h1M92 192.5h1M105 194.5h1M76 183.5h1M79 177.5h1M85 179.5h1M95 184.5h1M88 186.5h1M89 182.5h1M87 183.5h1M87 185.5h1M92 184.5h1M81 179.5h1M98 199.5h1M93 186.5h1M96 196.5h1M103 198.5h1M89 186.5h1M80 176.5h1M79 177.5h1M85 174.5h1M85 182.5h1M91 181.5h1M96 186.5h1M98 191.5h1M99 196.5h1M92 193.5h1M78 182.5h1M100 191.5h1M92 180.5h1M84 183.5h1M91 187.5h1M84 185.5h1M103 198.5h1M78 182.5h1M97 190.5h1M85 189.5h1M80 180.5h1M76 182.5h1M82 188.5h1M93 187.5h1M78 181.5h1M77 178.5h1M103 194.5h1M77 182.5h1M102 190.5h1M88 192.5h1M97 195.5h1M83 182.5h1M94 189.5h1M76 180.5h1M99 197.5h1M100 194.5h1M103 195.5h1M84 179.5h1M89 182.5h1M88 186.5h1M103 193.5h1M102 195.5h1M98 197.5h1M89 191.5h1M81 182.5h1M97 195.5h1M83 186.5h1M91 195.5h1M87 184.5h1M92 186.5h1M92 186.5h1M89 190.5h1M80 184.5h1M92 193.5h1M102 193.5h1M95 186.5h1M97 195.5h1M101 190.5h1M86 183.5h1M83 179.5h1M86 183.5h1M81 178.5h1M82 179.5h1M81 174.5h1M86 191.5h1M92 186.5h1M99 195.5h1M98 189.5h1M98 196.5h1M94 190.5h1M79 179.5h1M83 186.5h1M83 180.5h1M95 185.5h1M99 189.5h1M95 190.5h1M80 182.5h1M85 182.5h1M80 183.5h1M94 192.5h1M91 183.5h1M83 182.5h1M84 180.5h1M85 185.5h1M85 178.5h1M76 183.5h1M105 190.5h1M102 188.5h1M84 181.5h1M81 176.5h1M99 191.5h1M90 187.5h1M91 196.5h1M85 185.5h1M85 188.5h1M90 179.5h1M92 189.5h1M81 182.5h1M82 177.5h1M81 180.5h1M101 195.5h1M85 189.5h1M96 194.5h1M80 177.5h1M88 191.5h1M90 187.5h1M79 177.5h1M104 194.5h1M88 189.5h1M79 181.5h1M99 191.5h1M94 187.5h1M99 195.5h1M87 191.5h1M86 183.5h1M96 195.5h1M90 181.5h1M89 186.5h1M78 184.5h1M97 192.5h1M92 189.5h1M87 177.5h1M104 192.5h1M102 187.5h1M85 183.5h1M92 189.5h1M90 196.5h1M99 197.5h1M78 180.5h1M102 197.5h1M81 177.5h1M92 187.5h1M83 180.5h1M99 191.5h1M81 183.5h1M88 183.5h1M95 191.5h1M91 186.5h1M102 190.5h1M77 182.5h1M91 182.5h1M81 186.5h1M100 198.5h1M98 191.5h1M102 197.5h1M96 194.5h1M100 195.5h1M86 183.5h1M78 180.5h1M84 188.5h1M89 184.5h1M86 186.5h1M88 183.5h1M100 189.5h1M86 181.5h1M92 184.5h1M83 184.5h1M96 195.5h1M85 186.5h1M84 176.5h1M97 186.5h1M90 186.5h1M81 183.5h1M99 192.5h1M95 189.5h1M89 193.5h1M95 191.5h1M80 179.5h1M83 191.5h1M97 187.5h1M78 177.5h1M102 190.5h1M92 190.5h1M86 184.5h1M85 184.5h1M81 176.5h1M84 183.5h1M93 189.5h1M78 178.5h1M92 189.5h1M90 192.5h1M77 180.5h1M95 190.5h1M89 186.5h1M99 187.5h1M89 188.5h1M94 191.5h1M86 179.5h1M100 194.5h1M80 185.5h1M104 195.5h1M90 196.5h1M79 182.5h1M94 187.5h1M101 197.5h1M89 192.5h1M81 180.5h1M92 187.5h1M84 178.5h1M100 197.5h1M83 189.5h1M88 187.5h1M82 185.5h1M101 194.5h1M101 196.5h1M97 188.5h1M79 176.5h1M78 180.5h1M92 196.5h1M88 192.5h1M80 188.5h1M98 193.5h1M89 187.5h1M93 186.5h1M80 177.5h1M98 200.5h1M100 190.5h1M98 190.5h1M88 186.5h1M79 180.5h1M86 181.5h1M92 186.5h1M104 192.5h1M100 186.5h1M96 188.5h1M103 195.5h1M90 187.5h1M102 195.5h1M94 185.5h1M78 181.5h1M88 185.5h1M84 184.5h1M91 188.5h1M87 187.5h1M97 192.5h1M79 178.5h1M94 186.5h1M97 190.5h1M80 186.5h1M92 185.5h1M92 187.5h1M99 192.5h1M82 180.5h1M90 183.5h1M82 178.5h1M97 195.5h1M86 182.5h1M83 181.5h1M81 180.5h1M106 192.5h1M102 197.5h1M88 186.5h1M91 186.5h1M97 197.5h1M96 186.5h1M97 187.5h1M89 193.5h1M81 178.5h1M81 180.5h1M79 177.5h1M85 183.5h1M82 191.5h1M83 178.5h1M103 190.5h1M89 188.5h1M87 180.5h1M95 194.5h1M101 193.5h1M98 203.5h1M79 176.5h1M89 187.5h1M75 186.5h1M85 179.5h1M84 176.5h1M85 184.5h1M95 190.5h1M91 185.5h1M101 197.5h1M88 189.5h1M78 181.5h1M93 189.5h1M98 200.5h1M92 189.5h1M102 196.5h1M80 177.5h1M102 192.5h1M81 184.5h1M98 183.5h1M85 182.5h1M101 197.5h1M80 187.5h1M102 196.5h1M100 191.5h1M102 196.5h1M85 179.5h1M85 179.5h1M83 181.5h1M95 192.5h1M99 196.5h1M79 179.5h1M96 195.5h1M88 183.5h1M87 181.5h1M97 196.5h1M78 179.5h1M95 190.5h1M91 197.5h1M100 189.5h1M91 189.5h1M77 179.5h1M90 186.5h1M95 188.5h1M88 184.5h1M101 188.5h1M96 191.5h1M100 190.5h1M102 192.5h1M96 185.5h1M84 189.5h1M93 194.5h1M77 183.5h1M95 183.5h1M98 192.5h1M87 189.5h1M88 180.5h1M93 185.5h1M95 182.5h1M79 188.5h1M86 178.5h1M88 184.5h1M93 179.5h1M80 179.5h1M98 194.5h1M83 182.5h1M85 190.5h1M94 191.5h1M91 188.5h1M102 190.5h1M84 189.5h1M89 186.5h1M95 188.5h1M103 197.5h1M105 192.5h1M98 191.5h1M94 189.5h1M94 191.5h1M99 193.5h1M80 182.5h1M90 179.5h1M75 181.5h1M81 181.5h1M89 193.5h1M102 195.5h1M98 193.5h1M102 198.5h1M104 194.5h1M99 198.5h1M87 181.5h1M99 197.5h1M81 176.5h1M89 183.5h1M85 178.5h1M80 181.5h1M98 189.5h1M86 184.5h1M94 191.5h1M87 190.5h1M79 179.5h1M79 180.5h1M82 184.5h1M82 186.5h1M87 185.5h1M84 182.5h1M82 180.5h1M86 186.5h1M97 194.5h1M91 188.5h1M85 178.5h1M84 182.5h1M87 185.5h1M83 181.5h1M90 191.5h1M102 198.5h1M81 179.5h1M83 187.5h1M89 191.5h1M87 189.5h1M101 197.5h1M81 178.5h1M80 180.5h1M85 179.5h1M81 176.5h1M101 199.5h1M84 186.5h1M93 179.5h1M81 183.5h1M83 182.5h1M94 187.5h1M89 192.5h1M94 188.5h1M96 188.5h1M81 176.5h1M89 187.5h1M98 192.5h1M91 187.5h1M97 195.5h1M102 194.5h1M85 186.5h1M87 177.5h1M97 186.5h1M102 196.5h1M81 181.5h1M78 178.5h1M91 189.5h1M89 190.5h1M103 199.5h1M114 207.5h1M103 192.5h1M115 196.5h1M105 200.5h1M110 198.5h1M105 198.5h1M101 205.5h1M104 201.5h1M103 204.5h1M116 197.5h1M107 200.5h1M114 198.5h1M112 202.5h1M111 198.5h1M103 199.5h1M111 200.5h1M110 208.5h1M99 195.5h1M104 197.5h1M109 195.5h1M102 200.5h1M106 201.5h1M106 193.5h1M104 202.5h1M108 202.5h1M101 197.5h1M98 199.5h1M102 203.5h1M105 206.5h1M117 201.5h1M109 194.5h1M104 189.5h1M103 211.5h1M110 206.5h1M106 199.5h1M107 198.5h1M109 203.5h1M100 190.5h1M105 199.5h1M100 203.5h1M113 203.5h1M100 201.5h1M102 205.5h1M108 202.5h1M111 203.5h1M119 194.5h1M107 204.5h1M110 188.5h1M112 198.5h1M102 208.5h1M106 204.5h1M109 203.5h1M112 202.5h1M113 200.5h1M102 207.5h1M107 204.5h1M100 188.5h1M107 201.5h1M114 194.5h1M103 201.5h1M112 202.5h1M109 204.5h1M117 207.5h1M105 193.5h1M98 199.5h1M102 201.5h1M106 189.5h1M111 203.5h1M103 194.5h1M113 201.5h1M105 196.5h1M103 208.5h1M103 200.5h1M105 199.5h1M101 206.5h1M107 204.5h1M102 199.5h1M116 200.5h1M104 194.5h1M103 203.5h1M104 197.5h1M112 208.5h1M106 213.5h1M105 198.5h1M99 195.5h1M103 212.5h1M101 200.5h1M107 202.5h1M96 199.5h1M101 200.5h1M97 198.5h1M105 195.5h1M107 202.5h1M110 195.5h1M100 200.5h1M107 197.5h1M99 200.5h1M112 196.5h1M109 194.5h1M110 194.5h1M111 200.5h1M112 198.5h1M100 195.5h1M102 201.5h1M103 203.5h1M106 198.5h1M104 199.5h1M109 206.5h1M104 200.5h1M111 207.5h1M102 194.5h1M104 206.5h1M104 205.5h1M106 203.5h1M109 200.5h1M103 200.5h1M118 195.5h1M110 199.5h1M100 200.5h1M111 194.5h1M101 204.5h1M100 206.5h1M112 197.5h1M107 206.5h1M111 191.5h1M99 201.5h1M112 208.5h1M108 200.5h1M102 204.5h1M107 210.5h1M116 204.5h1M103 200.5h1M112 202.5h1M109 197.5h1M96 204.5h1M115 198.5h1M108 192.5h1M114 212.5h1M113 195.5h1M107 201.5h1M108 197.5h1M109 201.5h1M101 196.5h1M115 201.5h1M109 210.5h1M104 206.5h1M112 197.5h1M106 202.5h1M99 192.5h1M104 207.5h1M105 208.5h1M98 199.5h1M108 206.5h1M110 205.5h1M110 201.5h1M114 204.5h1M104 204.5h1M110 201.5h1M110 199.5h1M105 193.5h1M105 207.5h1M94 198.5h1M110 203.5h1M99 200.5h1M108 205.5h1M107 197.5h1M109 201.5h1M101 200.5h1M108 200.5h1M105 200.5h1M107 204.5h1M101 198.5h1M110 198.5h1M102 194.5h1M100 196.5h1M106 203.5h1M107 201.5h1M110 200.5h1M100 201.5h1M107 210.5h1M107 210.5h1M106 194.5h1M105 199.5h1M106 199.5h1M118 202.5h1M106 200.5h1M106 205.5h1M107 205.5h1M102 201.5h1M106 201.5h1M101 197.5h1M99 202.5h1M113 200.5h1M100 199.5h1M112 193.5h1M105 201.5h1M104 202.5h1M109 202.5h1M111 205.5h1" stroke="#111" stroke-width="1" fill="none"/>
<path d="M90 191.5h1M82 174.5h1M100 187.5h1M99 195.5h1M76 190.5h1M99 199.5h1M97 197.5h1M92 190.5h1M99 186.5h1M100 187.5h1M105 188.5h1M91 185.5h1M90 184.5h1M80 175.5h1M108 185.5h1M98 192.5h1M80 184.5h1M92 183.5h1M96 178.5h1M79 187.5h1M93 183.5h1M79 180.5h1M96 191.5h1M91 185.5h1M91 185.5h1M103 191.5h1M88 200.5h1M82 199.5h1M97 189.5h1M93 181.5h1M76 181.5h1M84 172.5h1M93 189.5h1M101 190.5h1M97 187.5h1M92 196.5h1M97 195.5h1M94 184.5h1M101 195.5h1M83 177.5h1M99 197.5h1M78 178.5h1M90 192.5h1M100 195.5h1M87 178.5h1M96 193.5h1M79 177.5h1M101 196.5h1M98 198.5h1M104 191.5h1M95 194.5h1M87 191.5h1M85 174.5h1M83 174.5h1M92 188.5h1M105 182.5h1M91 196.5h1M90 194.5h1M85 186.5h1M77 183.5h1M103 176.5h1M86 180.5h1M82 189.5h1M82 195.5h1M90 202.5h1M97 194.5h1M90 187.5h1M97 202.5h1M92 168.5h1M96 190.5h1M75 182.5h1M82 187.5h1M89 175.5h1M95 186.5h1M97 194.5h1M77 182.5h1M91 192.5h1M86 182.5h1M87 191.5h1M77 190.5h1M87 203.5h1M79 196.5h1M93 181.5h1M82 186.5h1M92 185.5h1M88 184.5h1M102 187.5h1M75 181.5h1M90 193.5h1M100 197.5h1M90 185.5h1M83 194.5h1M88 185.5h1M78 184.5h1M94 182.5h1M85 187.5h1M93 187.5h1M89 190.5h1M81 189.5h1M88 187.5h1M84 189.5h1M95 203.5h1M79 183.5h1M90 170.5h1M99 191.5h1M97 183.5h1M90 179.5h1M95 199.5h1M83 186.5h1M91 195.5h1M82 183.5h1M84 184.5h1M99 183.5h1M89 171.5h1M84 177.5h1M89 177.5h1M82 172.5h1M91 184.5h1M89 177.5h1M95 187.5h1M87 171.5h1M80 181.5h1M94 192.5h1M83 181.5h1M101 185.5h1M99 191.5h1M93 173.5h1M104 191.5h1M88 182.5h1M91 187.5h1M91 195.5h1M89 194.5h1M95 187.5h1M96 193.5h1M99 189.5h1M86 173.5h1M103 188.5h1M88 166.5h1M101 193.5h1M96 192.5h1M90 193.5h1M89 188.5h1M102 194.5h1M101 196.5h1M81 181.5h1M91 185.5h1M102 177.5h1M89 175.5h1M87 180.5h1M96 189.5h1M97 187.5h1M84 186.5h1M91 185.5h1M82 181.5h1M95 194.5h1M89 185.5h1M92 181.5h1M74 182.5h1M97 202.5h1M94 189.5h1M88 188.5h1M75 190.5h1M73 186.5h1M81 176.5h1M99 189.5h1M76 187.5h1M104 187.5h1M89 189.5h1M83 173.5h1M79 180.5h1M99 180.5h1M82 183.5h1M93 185.5h1M79 183.5h1M87 188.5h1M95 194.5h1M91 198.5h1M92 180.5h1M74 185.5h1M99 198.5h1M103 187.5h1M92 199.5h1M92 191.5h1M96 187.5h1M103 183.5h1M95 189.5h1M87 178.5h1M98 182.5h1M80 187.5h1M95 193.5h1M91 199.5h1M93 182.5h1M93 173.5h1M86 181.5h1M76 190.5h1M101 183.5h1M100 197.5h1M99 183.5h1M89 190.5h1M99 189.5h1M96 189.5h1M79 179.5h1M101 191.5h1M98 178.5h1M89 179.5h1M82 184.5h1M87 181.5h1M80 181.5h1M99 195.5h1M85 181.5h1M96 179.5h1M87 190.5h1M90 177.5h1M96 185.5h1M76 184.5h1M82 180.5h1M85 186.5h1M99 196.5h1M77 188.5h1M87 177.5h1M79 193.5h1M64 199.5h1M63 184.5h1M94 196.5h1M73 201.5h1M63 193.5h1M80 189.5h1M74 196.5h1M88 214.5h1M80 191.5h1M78 196.5h1M68 180.5h1M68 188.5h1M73 196.5h1M73 191.5h1M90 191.5h1M54 192.5h1M88 193.5h1M87 200.5h1M64 198.5h1M62 181.5h1M75 197.5h1M74 198.5h1M65 186.5h1M90 197.5h1M71 187.5h1M76 191.5h1M57 172.5h1M87 207.5h1M72 197.5h1M67 192.5h1M87 195.5h1M72 193.5h1M88 195.5h1M83 196.5h1M67 196.5h1M93 193.5h1M78 192.5h1M63 188.5h1M76 189.5h1M60 190.5h1M86 198.5h1M53 186.5h1M92 200.5h1M62 178.5h1M75 190.5h1M72 191.5h1M79 204.5h1M80 193.5h1M74 181.5h1M91 197.5h1M78 184.5h1M80 194.5h1M66 191.5h1M100 202.5h1M72 195.5h1M69 188.5h1M91 198.5h1M79 188.5h1M63 185.5h1M77 185.5h1M69 192.5h1M73 202.5h1M71 183.5h1M81 192.5h1M83 191.5h1M52 194.5h1M69 194.5h1M92 197.5h1M61 187.5h1M81 198.5h1M59 183.5h1M100 196.5h1M92 190.5h1M72 183.5h1M84 203.5h1M83 190.5h1M79 197.5h1M94 193.5h1M73 195.5h1M76 186.5h1M66 202.5h1M81 203.5h1M80 194.5h1M73 190.5h1M73 190.5h1M64 184.5h1M79 188.5h1M86 208.5h1M69 182.5h1M53 182.5h1M69 188.5h1M59 187.5h1M65 189.5h1M70 195.5h1M68 193.5h1M74 184.5h1M85 197.5h1M91 200.5h1M69 202.5h1M70 182.5h1M82 187.5h1M79 182.5h1M87 202.5h1M81 191.5h1M58 193.5h1M83 194.5h1M64 187.5h1M70 188.5h1M58 193.5h1M72 204.5h1M80 194.5h1M83 193.5h1M82 201.5h1M89 199.5h1M70 199.5h1M75 189.5h1M87 195.5h1M81 203.5h1M67 189.5h1M77 192.5h1M69 198.5h1M76 194.5h1M77 190.5h1M77 199.5h1M64 190.5h1M88 204.5h1M89 200.5h1M72 187.5h1M69 204.5h1M76 188.5h1M86 205.5h1M79 197.5h1M74 184.5h1M75 190.5h1M54 199.5h1M75 186.5h1M73 194.5h1M73 200.5h1M70 200.5h1M75 193.5h1M78 194.5h1M71 179.5h1M61 182.5h1M70 189.5h1M74 198.5h1M60 181.5h1M83 190.5h1M81 190.5h1M64 182.5h1M75 182.5h1M75 188.5h1M89 190.5h1M81 191.5h1M67 192.5h1M85 190.5h1M66 178.5h1M65 194.5h1M67 189.5h1M106 181.5h1M88 180.5h1M100 167.5h1M113 190.5h1M114 190.5h1M92 174.5h1M94 162.5h1M113 165.5h1M120 178.5h1M103 190.5h1M98 191.5h1M115 183.5h1M120 178.5h1M100 185.5h1M92 186.5h1M89 193.5h1M125 170.5h1M99 184.5h1M125 177.5h1M104 178.5h1M89 190.5h1M112 186.5h1M120 164.5h1M97 185.5h1M92 179.5h1M107 170.5h1M88 180.5h1M89 186.5h1M122 164.5h1M113 181.5h1M110 170.5h1M95 193.5h1M118 163.5h1M94 173.5h1M103 164.5h1" stroke="#888" stroke-width="1" fill="none"/>
<path d="M119 197.5h1M74 176.5h1M63 166.5h1M69 210.5h1M92 154.5h1M119 171.5h1M52 200.5h1M108 204.5h1M59 211.5h1M63 192.5h1M127 198.5h1M80 194.5h1M90 194.5h1M94 212.5h1M108 176.5h1M108 196.5h1M69 196.5h1M94 161.5h1M93 186.5h1M90 205.5h1M74 177.5h1M80 214.5h1M76 195.5h1M50 192.5h1M61 210.5h1M92 210.5h1M91 202.5h1M60 188.5h1M65 196.5h1M76 187.5h1M72 193.5h1M107 209.5h1M66 206.5h1M57 183.5h1M76 212.5h1M58 190.5h1M73 193.5h1M56 186.5h1M79 205.5h1M67 191.5h1M79 191.5h1M59 190.5h1M80 212.5h1M81 199.5h1M82 186.5h1M76 178.5h1M74 180.5h1M75 216.5h1M75 187.5h1M79 191.5h1M87 189.5h1M84 214.5h1M76 187.5h1M82 189.5h1M78 196.5h1M88 208.5h1M60 189.5h1M63 202.5h1M88 201.5h1M80 189.5h1M60 191.5h1M83 192.5h1M92 208.5h1M100 193.5h1M68 197.5h1M81 202.5h1M66 189.5h1M56 193.5h1M63 192.5h1M81 213.5h1M88 203.5h1M49 182.5h1M59 197.5h1M54 185.5h1M69 192.5h1M80 197.5h1M84 203.5h1M69 183.5h1M86 207.5h1" stroke="#aaa" stroke-width="1" fill="none"/>
</g>
<g filter="url(#bl3)"><path d="M52.5 168.8L58.8 166.6L66.8 165.8L73.6 167.0L77.6 170.6L80.6 175.5L80.0 180.0L76.0 182.2L68.2 180.6L61.5 177.2L56.1 174.5L51.8 172.0Z" fill="#000" stroke="#000" stroke-width="7" stroke-linejoin="round" opacity="0.28"/><line x1="79" y1="179" x2="101" y2="195" stroke="#000" stroke-width="8" stroke-linecap="round" opacity="0.35"/><ellipse cx="107.5" cy="200.8" rx="7" ry="7" transform="rotate(0 107.5 200.8)" fill="#000" opacity="0.3"/></g>
<g filter="url(#bl2)"><path d="M52.5 168.8L58.8 166.6L66.8 165.8L73.6 167.0L77.6 170.6L80.6 175.5L80.0 180.0L76.0 182.2L68.2 180.6L61.5 177.2L56.1 174.5L51.8 172.0Z" fill="#000"/><line x1="80" y1="180" x2="99" y2="193.5" stroke="#000" stroke-width="3.6" stroke-linecap="round" opacity="0.6"/><ellipse cx="107.5" cy="200.8" rx="4.4" ry="4.6" transform="rotate(0 107.5 200.8)" fill="#000"/></g>
</g>
<rect x="48.0" y="138.8" width="82.30000000000001" height="81.89999999999998" fill="none" stroke="#555" stroke-width="1.1"/>
<rect x="95.5" y="189.5" width="21.0" height="23.900000000000006" fill="none" stroke="#3a3a3a" stroke-width="1"/>
<text x="81.3" y="212.8" font-size="6.9" text-anchor="start" fill="#000" stroke="#000" stroke-width="0.22">11%</text>
<line x1="65.6" y1="220.7" x2="65.6" y2="224.29999999999998" stroke="#333" stroke-width="1"/>
<text x="65.3" y="229.4" font-size="5.7" font-weight="bold" text-anchor="middle" fill="#111">10</text><text x="68.6" y="226.4" font-size="4.8" font-weight="bold" fill="#000">2</text>
<line x1="85.4" y1="220.7" x2="85.4" y2="224.29999999999998" stroke="#333" stroke-width="1"/>
<text x="85.1" y="229.4" font-size="5.7" font-weight="bold" text-anchor="middle" fill="#111">10</text><text x="88.4" y="226.4" font-size="4.8" font-weight="bold" fill="#000">3</text>
<line x1="104.0" y1="220.7" x2="104.0" y2="224.29999999999998" stroke="#333" stroke-width="1"/>
<text x="103.7" y="229.4" font-size="5.7" font-weight="bold" text-anchor="middle" fill="#111">10</text><text x="107.0" y="226.4" font-size="4.8" font-weight="bold" fill="#000">4</text>
<line x1="122.3" y1="220.7" x2="122.3" y2="224.29999999999998" stroke="#333" stroke-width="1"/>
<text x="122.0" y="229.4" font-size="5.7" font-weight="bold" text-anchor="middle" fill="#111">10</text><text x="125.3" y="226.4" font-size="4.8" font-weight="bold" fill="#000">5</text>
<line x1="44.0" y1="146.70000000000002" x2="48.0" y2="146.70000000000002" stroke="#333" stroke-width="1"/>
<g transform="translate(42.4 147.0) rotate(-90)"><text x="0" y="0" font-size="5.7" font-weight="bold" text-anchor="middle" fill="#111">10</text><text x="3.0" y="-3.0" font-size="4.8" font-weight="bold" fill="#000">5</text></g>
<line x1="44.0" y1="165.5" x2="48.0" y2="165.5" stroke="#333" stroke-width="1"/>
<g transform="translate(42.4 165.8) rotate(-90)"><text x="0" y="0" font-size="5.7" font-weight="bold" text-anchor="middle" fill="#111">10</text><text x="3.0" y="-3.0" font-size="4.8" font-weight="bold" fill="#000">4</text></g>
<line x1="44.0" y1="184.3" x2="48.0" y2="184.3" stroke="#333" stroke-width="1"/>
<g transform="translate(42.4 184.6) rotate(-90)"><text x="0" y="0" font-size="5.7" font-weight="bold" text-anchor="middle" fill="#111">10</text><text x="3.0" y="-3.0" font-size="4.8" font-weight="bold" fill="#000">3</text></g>
<line x1="44.0" y1="203.8" x2="48.0" y2="203.8" stroke="#333" stroke-width="1"/>
<g transform="translate(42.4 204.1) rotate(-90)"><text x="0" y="0" font-size="5.7" font-weight="bold" text-anchor="middle" fill="#111">10</text><text x="3.0" y="-3.0" font-size="4.8" font-weight="bold" fill="#000">2</text></g>
<clipPath id="cs8"><rect x="151.1" y="139.3" width="80.9" height="81.1"/></clipPath>
<g clip-path="url(#cs8)">
<g filter="url(#bl)">
<path d="M187 186.5h1M217 203.5h1M195 182.5h1M213 188.5h1M193 179.5h1M188 180.5h1M180 188.5h1M215 204.5h1M194 193.5h1M171 176.5h1M203 196.5h1M183 188.5h1M190 194.5h1M196 190.5h1M176 183.5h1M216 206.5h1M196 194.5h1M208 199.5h1M218 201.5h1M181 184.5h1M191 189.5h1M200 200.5h1M211 191.5h1M200 189.5h1M194 184.5h1M193 188.5h1M192 182.5h1M199 189.5h1M184 190.5h1M197 194.5h1M218 196.5h1M208 200.5h1M164 171.5h1M202 196.5h1M210 201.5h1M188 190.5h1M187 183.5h1M197 194.5h1M175 183.5h1M206 195.5h1M197 194.5h1M188 189.5h1M185 180.5h1M180 182.5h1M168 178.5h1M179 189.5h1M189 190.5h1M213 188.5h1M190 194.5h1M199 205.5h1M201 191.5h1M178 172.5h1M177 175.5h1M203 201.5h1M207 200.5h1M208 202.5h1M181 181.5h1M205 213.5h1M184 189.5h1M181 185.5h1M199 188.5h1M177 182.5h1M178 188.5h1M170 176.5h1M207 199.5h1M202 200.5h1M199 186.5h1M217 195.5h1M217 203.5h1M164 174.5h1M209 206.5h1M179 188.5h1M182 172.5h1M190 198.5h1M164 174.5h1M178 182.5h1M185 182.5h1M207 210.5h1M200 190.5h1M184 181.5h1M208 211.5h1M213 199.5h1M203 194.5h1M198 185.5h1M188 191.5h1M200 189.5h1M214 204.5h1M185 176.5h1M169 170.5h1M169 172.5h1M183 182.5h1M170 175.5h1M180 179.5h1M183 182.5h1M189 195.5h1M188 189.5h1M190 186.5h1M185 191.5h1M206 191.5h1M213 209.5h1M176 183.5h1M185 177.5h1M214 196.5h1M204 202.5h1M189 195.5h1M210 197.5h1M169 175.5h1M171 173.5h1M201 190.5h1M203 202.5h1M176 171.5h1M208 186.5h1M207 201.5h1M188 194.5h1M193 192.5h1M182 187.5h1M200 193.5h1M174 175.5h1M167 172.5h1M195 195.5h1M178 175.5h1M216 206.5h1M222 204.5h1M204 192.5h1M195 187.5h1M176 183.5h1M194 198.5h1M195 184.5h1M210 200.5h1M174 182.5h1M179 177.5h1M205 204.5h1M195 187.5h1M173 176.5h1M186 194.5h1M167 175.5h1M188 189.5h1M172 172.5h1M168 168.5h1M214 194.5h1M189 185.5h1M179 181.5h1M207 199.5h1M177 175.5h1M193 190.5h1M209 203.5h1M211 205.5h1M193 195.5h1M195 182.5h1M203 201.5h1M169 170.5h1M206 198.5h1M206 201.5h1M183 183.5h1M174 183.5h1M196 185.5h1M187 182.5h1M196 186.5h1M214 188.5h1M178 173.5h1M217 201.5h1M216 206.5h1M212 189.5h1M168 177.5h1M213 202.5h1M195 198.5h1M216 206.5h1M194 193.5h1M198 193.5h1M188 193.5h1M217 195.5h1M217 204.5h1M209 196.5h1M178 176.5h1M171 180.5h1M207 201.5h1M202 188.5h1M190 193.5h1M170 168.5h1M199 202.5h1M163 176.5h1M165 172.5h1M206 210.5h1M208 193.5h1M189 188.5h1M181 181.5h1M212 196.5h1M174 175.5h1M215 194.5h1M211 204.5h1M180 178.5h1M203 190.5h1M201 196.5h1M167 172.5h1M170 177.5h1M197 190.5h1M214 208.5h1M201 186.5h1M195 185.5h1M185 180.5h1M195 198.5h1M202 188.5h1M216 200.5h1M173 175.5h1M194 193.5h1M208 194.5h1M191 188.5h1M211 207.5h1M215 187.5h1M201 197.5h1M212 200.5h1M200 188.5h1M209 199.5h1M202 191.5h1M204 207.5h1M191 192.5h1M178 179.5h1M198 187.5h1M204 203.5h1M170 182.5h1M211 195.5h1M203 188.5h1M166 185.5h1M178 178.5h1M220 192.5h1M200 204.5h1M199 195.5h1M192 187.5h1M172 181.5h1M197 188.5h1M172 176.5h1M209 196.5h1M211 190.5h1M192 186.5h1M174 172.5h1M218 206.5h1M174 183.5h1M185 186.5h1M188 188.5h1M173 171.5h1M180 183.5h1M187 180.5h1M217 195.5h1M187 192.5h1M204 212.5h1M182 191.5h1M164 175.5h1M200 194.5h1M172 175.5h1M176 177.5h1M213 194.5h1M188 185.5h1M187 191.5h1M176 176.5h1M218 199.5h1M189 194.5h1M212 201.5h1M165 177.5h1M212 209.5h1M208 206.5h1M166 181.5h1M181 187.5h1M205 206.5h1M204 202.5h1M216 193.5h1M206 203.5h1M180 192.5h1M217 207.5h1M201 188.5h1M192 187.5h1M212 190.5h1M188 183.5h1M204 199.5h1M167 171.5h1M188 184.5h1M197 201.5h1M177 183.5h1M172 174.5h1M200 193.5h1M219 205.5h1M173 184.5h1M207 191.5h1M176 181.5h1M210 187.5h1M189 193.5h1M197 183.5h1M192 195.5h1M195 201.5h1M211 202.5h1M175 180.5h1M193 202.5h1M171 176.5h1M215 190.5h1M181 173.5h1M176 175.5h1M175 172.5h1M206 202.5h1M217 205.5h1M160 179.5h1M172 172.5h1M205 194.5h1M169 169.5h1M176 177.5h1M209 198.5h1M166 177.5h1M171 178.5h1M193 196.5h1M191 185.5h1M199 191.5h1M191 191.5h1M211 190.5h1M216 202.5h1M212 205.5h1M190 193.5h1M209 195.5h1M209 200.5h1M209 205.5h1M175 174.5h1M217 205.5h1M209 209.5h1M183 189.5h1M193 182.5h1M191 194.5h1M178 170.5h1M197 201.5h1M190 188.5h1M175 174.5h1M210 188.5h1M191 182.5h1M202 205.5h1M166 180.5h1M201 208.5h1M207 200.5h1M191 181.5h1M180 180.5h1M199 180.5h1M206 201.5h1M182 186.5h1M217 192.5h1M212 200.5h1M200 190.5h1M174 173.5h1M177 182.5h1M207 193.5h1M180 186.5h1M203 193.5h1M187 183.5h1M171 173.5h1M189 193.5h1M186 183.5h1M209 197.5h1M191 189.5h1M176 183.5h1M191 190.5h1M166 176.5h1M210 194.5h1M182 188.5h1M210 208.5h1M187 179.5h1M186 181.5h1M219 194.5h1M169 172.5h1M205 193.5h1M199 192.5h1M201 193.5h1M184 181.5h1M197 192.5h1M196 184.5h1M207 204.5h1M211 198.5h1M202 190.5h1M190 188.5h1M201 202.5h1M169 180.5h1M182 173.5h1M194 191.5h1M185 178.5h1M180 176.5h1M212 201.5h1M216 200.5h1M182 185.5h1M197 197.5h1M185 193.5h1M215 208.5h1M207 195.5h1M211 198.5h1M205 204.5h1M176 183.5h1M195 198.5h1M194 191.5h1M189 192.5h1M194 184.5h1M162 178.5h1M186 187.5h1M182 187.5h1M179 186.5h1M208 204.5h1M204 200.5h1M180 186.5h1M210 199.5h1M219 194.5h1M207 195.5h1M201 202.5h1M184 189.5h1M186 184.5h1M199 202.5h1M194 197.5h1M188 180.5h1M214 201.5h1M218 193.5h1M192 181.5h1M216 201.5h1M191 197.5h1M197 202.5h1M217 202.5h1M196 199.5h1M172 180.5h1M190 179.5h1M191 186.5h1M178 171.5h1M163 173.5h1M187 184.5h1M189 184.5h1M208 195.5h1M192 198.5h1M202 213.5h1M172 170.5h1M203 206.5h1M193 188.5h1M185 184.5h1M190 189.5h1M178 169.5h1M194 191.5h1M174 181.5h1M203 206.5h1M200 187.5h1M188 191.5h1M203 185.5h1M204 199.5h1M209 203.5h1M214 206.5h1M200 190.5h1M205 188.5h1M175 182.5h1M171 178.5h1M180 174.5h1M178 184.5h1M201 192.5h1M204 193.5h1M195 198.5h1M208 210.5h1M213 197.5h1M181 167.5h1M192 192.5h1M188 191.5h1M204 206.5h1M202 188.5h1M209 202.5h1M202 205.5h1M185 177.5h1M193 198.5h1M204 201.5h1M170 169.5h1M192 193.5h1M198 196.5h1M171 175.5h1M185 189.5h1M204 199.5h1M193 185.5h1M174 175.5h1M204 200.5h1M194 198.5h1M207 209.5h1M179 171.5h1M183 186.5h1M196 192.5h1M188 194.5h1M192 187.5h1M172 169.5h1M200 194.5h1M184 188.5h1M201 195.5h1M189 194.5h1M196 195.5h1M206 200.5h1M164 180.5h1M200 199.5h1M214 193.5h1M217 194.5h1M216 202.5h1M197 200.5h1M215 191.5h1M202 188.5h1M178 174.5h1M189 180.5h1M194 181.5h1M168 175.5h1M168 177.5h1M194 204.5h1M183 181.5h1M172 178.5h1M206 205.5h1M183 192.5h1M215 190.5h1M204 200.5h1M178 174.5h1M201 188.5h1M202 191.5h1M210 202.5h1M202 188.5h1M197 198.5h1M204 202.5h1M200 203.5h1M174 173.5h1M193 194.5h1M214 205.5h1M213 199.5h1M202 189.5h1M172 183.5h1M198 186.5h1M192 190.5h1M184 188.5h1M175 174.5h1M180 189.5h1M183 174.5h1M191 185.5h1M187 186.5h1M176 167.5h1M180 186.5h1M213 195.5h1M187 185.5h1M186 179.5h1M205 207.5h1M199 196.5h1M178 180.5h1M211 206.5h1M196 200.5h1M192 183.5h1M177 184.5h1M211 193.5h1M196 185.5h1M180 172.5h1M208 187.5h1M203 207.5h1M181 183.5h1M198 187.5h1M192 188.5h1M210 196.5h1M213 209.5h1M170 179.5h1M196 195.5h1M192 185.5h1M178 186.5h1M195 191.5h1M214 207.5h1M185 185.5h1M185 185.5h1M206 210.5h1M185 178.5h1M202 196.5h1M198 192.5h1M218 203.5h1M186 190.5h1M175 175.5h1M209 190.5h1M184 189.5h1M173 171.5h1M174 183.5h1M194 186.5h1M177 186.5h1M189 184.5h1M196 194.5h1M177 183.5h1M167 172.5h1M212 202.5h1M199 195.5h1M217 202.5h1M197 202.5h1M169 171.5h1M165 175.5h1M210 209.5h1M202 187.5h1M216 195.5h1M193 191.5h1M197 198.5h1M209 211.5h1M188 186.5h1M185 187.5h1M200 207.5h1M205 206.5h1M203 192.5h1M180 179.5h1M208 205.5h1M172 182.5h1M203 190.5h1M172 177.5h1M211 189.5h1M183 191.5h1M203 193.5h1M205 194.5h1" stroke="#111" stroke-width="1" fill="none"/>
<path d="M166 167.5h1M197 193.5h1M179 181.5h1M179 173.5h1M165 170.5h1M180 183.5h1M214 186.5h1M202 208.5h1M201 186.5h1M216 192.5h1M178 188.5h1M206 208.5h1M219 205.5h1M161 173.5h1M195 191.5h1M222 196.5h1M209 189.5h1M205 181.5h1M182 187.5h1M172 182.5h1M211 217.5h1M177 195.5h1M199 193.5h1M195 186.5h1M174 168.5h1M196 202.5h1M210 202.5h1M197 184.5h1M211 210.5h1M190 181.5h1M203 190.5h1M186 189.5h1M210 200.5h1M186 181.5h1M193 199.5h1M205 181.5h1M175 177.5h1M221 193.5h1M190 181.5h1M197 202.5h1M175 188.5h1M195 180.5h1M180 187.5h1M171 182.5h1M207 192.5h1M180 182.5h1M214 208.5h1M173 184.5h1M216 207.5h1M175 169.5h1M182 184.5h1M226 192.5h1M172 187.5h1M175 182.5h1M201 207.5h1M198 186.5h1M217 199.5h1M166 174.5h1M213 209.5h1M198 197.5h1M189 173.5h1M167 170.5h1M218 204.5h1M196 199.5h1M201 204.5h1M200 198.5h1M189 194.5h1M205 186.5h1M209 205.5h1M217 206.5h1M213 203.5h1M208 216.5h1M169 188.5h1M203 203.5h1M212 201.5h1M167 166.5h1M218 187.5h1M171 180.5h1M206 182.5h1M218 201.5h1M198 209.5h1M181 182.5h1M186 175.5h1M177 191.5h1M222 205.5h1M205 204.5h1M222 193.5h1M199 182.5h1M208 183.5h1M222 196.5h1M178 166.5h1M166 172.5h1M185 175.5h1M188 203.5h1M207 189.5h1M179 184.5h1M221 193.5h1M220 213.5h1M167 177.5h1M217 191.5h1M195 192.5h1M213 202.5h1M195 184.5h1M170 193.5h1M206 190.5h1M212 188.5h1M169 175.5h1M175 172.5h1M177 182.5h1M219 191.5h1M198 187.5h1M213 200.5h1M194 203.5h1M212 197.5h1M213 199.5h1M217 200.5h1M217 193.5h1M187 185.5h1M189 180.5h1M183 193.5h1M197 189.5h1M163 181.5h1M195 184.5h1M216 197.5h1M197 200.5h1M220 192.5h1M181 174.5h1M185 196.5h1M171 188.5h1M203 210.5h1M196 196.5h1M200 187.5h1M187 186.5h1M183 195.5h1M179 174.5h1M201 177.5h1M208 185.5h1M172 178.5h1M217 206.5h1M194 194.5h1M199 209.5h1M203 188.5h1M225 202.5h1M212 192.5h1M224 190.5h1M175 171.5h1M185 204.5h1M216 207.5h1M183 195.5h1M197 186.5h1M213 180.5h1M172 163.5h1M193 181.5h1M207 205.5h1M210 198.5h1M209 181.5h1M170 185.5h1M160 166.5h1M171 164.5h1M158 196.5h1M180 191.5h1M177 197.5h1M166 188.5h1M181 193.5h1M167 198.5h1M165 192.5h1M192 195.5h1M189 201.5h1M169 188.5h1M176 194.5h1M172 209.5h1M183 205.5h1M175 199.5h1M178 200.5h1M165 183.5h1M180 192.5h1M182 194.5h1M174 203.5h1M154 198.5h1M177 187.5h1M188 201.5h1M170 203.5h1M173 190.5h1M158 183.5h1M194 195.5h1M168 203.5h1M186 196.5h1M174 191.5h1M185 199.5h1M187 191.5h1M159 197.5h1M172 196.5h1M163 192.5h1M188 193.5h1M170 200.5h1M180 184.5h1M182 195.5h1M191 197.5h1M164 191.5h1M174 191.5h1M176 204.5h1M175 205.5h1M165 201.5h1M170 195.5h1M188 200.5h1M170 190.5h1M181 197.5h1M181 190.5h1M158 201.5h1M175 198.5h1M201 191.5h1M179 201.5h1M199 205.5h1M172 200.5h1M167 196.5h1M157 187.5h1M165 196.5h1M196 194.5h1M152 197.5h1M169 190.5h1M168 190.5h1M163 189.5h1M166 189.5h1M202 195.5h1M168 192.5h1M198 184.5h1M179 200.5h1M178 196.5h1M196 198.5h1M160 187.5h1M170 187.5h1M180 187.5h1M181 201.5h1M174 189.5h1M192 190.5h1M174 183.5h1M182 191.5h1M183 193.5h1M197 192.5h1M177 188.5h1M194 186.5h1M195 193.5h1M184 198.5h1M188 197.5h1M165 205.5h1M186 189.5h1M172 197.5h1M154 198.5h1M177 191.5h1M176 200.5h1M175 210.5h1M186 195.5h1M188 192.5h1M176 188.5h1M179 193.5h1M198 188.5h1M166 200.5h1M166 205.5h1M189 194.5h1M184 183.5h1M185 205.5h1M185 194.5h1M167 192.5h1M171 206.5h1M170 191.5h1M184 197.5h1M180 194.5h1M175 194.5h1M171 195.5h1M176 198.5h1M179 191.5h1M209 197.5h1M168 186.5h1M172 200.5h1M174 168.5h1M175 192.5h1M167 196.5h1M178 203.5h1M194 197.5h1M194 190.5h1M175 192.5h1M169 190.5h1M160 197.5h1M174 187.5h1M162 198.5h1M173 200.5h1M171 185.5h1M167 193.5h1M184 184.5h1M219 199.5h1M217 192.5h1M229 199.5h1M227 195.5h1M231 202.5h1M230 203.5h1M230 201.5h1M229 199.5h1M216 203.5h1M224 203.5h1M228 201.5h1M230 196.5h1M228 201.5h1M217 202.5h1M221 192.5h1M227 201.5h1M227 199.5h1M224 195.5h1M216 199.5h1M218 200.5h1M225 196.5h1M229 192.5h1M230 199.5h1M228 203.5h1M225 194.5h1M219 197.5h1M220 202.5h1M227 194.5h1M226 203.5h1M229 197.5h1M216 199.5h1M231 195.5h1M225 201.5h1M225 202.5h1M221 200.5h1M222 196.5h1M231 193.5h1M223 197.5h1M216 194.5h1M224 201.5h1M229 198.5h1M231 193.5h1M222 195.5h1M197 168.5h1M222 180.5h1M180 164.5h1M211 152.5h1M188 155.5h1M210 167.5h1M226 187.5h1M223 170.5h1M200 153.5h1M219 185.5h1M207 168.5h1M191 170.5h1M191 158.5h1M212 173.5h1M189 184.5h1M198 159.5h1M195 163.5h1M216 152.5h1M212 167.5h1M220 180.5h1" stroke="#888" stroke-width="1" fill="none"/>
<path d="M186 160.5h1M182 208.5h1M216 161.5h1M202 158.5h1M173 153.5h1M223 207.5h1M228 142.5h1M158 217.5h1M171 217.5h1M226 183.5h1M167 190.5h1M198 204.5h1M202 192.5h1M176 163.5h1M185 216.5h1M178 179.5h1M170 185.5h1M188 196.5h1M199 190.5h1M211 213.5h1" stroke="#aaa" stroke-width="1" fill="none"/>
</g>
<g filter="url(#bl3)"><path d="M168.6 170.6L175.2 172.1L184.6 177.5L192.7 183.6L200.8 189.6L208.8 191.0L215.6 191.6L216.9 196.0L216.9 204.4L213.0 208.5L210.2 209.8L204.8 206.4L199.4 201.7L192.7 195.0L184.6 188.9L175.2 182.2L168.5 177.5L166.8 173.5Z" fill="#000" stroke="#000" stroke-width="8" stroke-linejoin="round" opacity="0.3"/></g>
<g filter="url(#bl2)"><path d="M168.6 170.6L175.2 172.1L184.6 177.5L192.7 183.6L200.8 189.6L208.8 191.0L215.6 191.6L216.9 196.0L216.9 204.4L213.0 208.5L210.2 209.8L204.8 206.4L199.4 201.7L192.7 195.0L184.6 188.9L175.2 182.2L168.5 177.5L166.8 173.5Z" fill="#000"/></g>
</g>
<rect x="150.6" y="138.8" width="81.9" height="82.1" fill="none" stroke="#555" stroke-width="1.1"/>
<rect x="197.9" y="189.9" width="21.099999999999994" height="23.599999999999994" fill="none" stroke="#3a3a3a" stroke-width="1"/>
<text x="183.1" y="212.5" font-size="6.9" text-anchor="start" fill="#000" stroke="#000" stroke-width="0.22">76%</text>
<line x1="168.2" y1="220.9" x2="168.2" y2="224.5" stroke="#333" stroke-width="1"/>
<text x="167.9" y="229.6" font-size="5.7" font-weight="bold" text-anchor="middle" fill="#111">10</text><text x="171.2" y="226.6" font-size="4.8" font-weight="bold" fill="#000">2</text>
<line x1="188.0" y1="220.9" x2="188.0" y2="224.5" stroke="#333" stroke-width="1"/>
<text x="187.7" y="229.6" font-size="5.7" font-weight="bold" text-anchor="middle" fill="#111">10</text><text x="191.0" y="226.6" font-size="4.8" font-weight="bold" fill="#000">3</text>
<line x1="206.6" y1="220.9" x2="206.6" y2="224.5" stroke="#333" stroke-width="1"/>
<text x="206.3" y="229.6" font-size="5.7" font-weight="bold" text-anchor="middle" fill="#111">10</text><text x="209.6" y="226.6" font-size="4.8" font-weight="bold" fill="#000">4</text>
<line x1="224.89999999999998" y1="220.9" x2="224.89999999999998" y2="224.5" stroke="#333" stroke-width="1"/>
<text x="224.6" y="229.6" font-size="5.7" font-weight="bold" text-anchor="middle" fill="#111">10</text><text x="227.9" y="226.6" font-size="4.8" font-weight="bold" fill="#000">5</text>
<line x1="146.6" y1="146.70000000000002" x2="150.6" y2="146.70000000000002" stroke="#333" stroke-width="1"/>
<g transform="translate(145.0 147.0) rotate(-90)"><text x="0" y="0" font-size="5.7" font-weight="bold" text-anchor="middle" fill="#111">10</text><text x="3.0" y="-3.0" font-size="4.8" font-weight="bold" fill="#000">5</text></g>
<line x1="146.6" y1="165.5" x2="150.6" y2="165.5" stroke="#333" stroke-width="1"/>
<g transform="translate(145.0 165.8) rotate(-90)"><text x="0" y="0" font-size="5.7" font-weight="bold" text-anchor="middle" fill="#111">10</text><text x="3.0" y="-3.0" font-size="4.8" font-weight="bold" fill="#000">4</text></g>
<line x1="146.6" y1="184.3" x2="150.6" y2="184.3" stroke="#333" stroke-width="1"/>
<g transform="translate(145.0 184.6) rotate(-90)"><text x="0" y="0" font-size="5.7" font-weight="bold" text-anchor="middle" fill="#111">10</text><text x="3.0" y="-3.0" font-size="4.8" font-weight="bold" fill="#000">3</text></g>
<line x1="146.6" y1="203.8" x2="150.6" y2="203.8" stroke="#333" stroke-width="1"/>
<g transform="translate(145.0 204.1) rotate(-90)"><text x="0" y="0" font-size="5.7" font-weight="bold" text-anchor="middle" fill="#111">10</text><text x="3.0" y="-3.0" font-size="4.8" font-weight="bold" fill="#000">2</text></g>
<text x="281" y="12.1" font-size="13.6" text-anchor="start" font-weight="bold" fill="#000" stroke="#000" stroke-width="0.12">B</text>
<line x1="314.09999999999997" y1="165.6" x2="316.7" y2="165.6" stroke="#000" stroke-width="1"/>
<text x="312.5" y="168.9" font-size="7.7" text-anchor="end" fill="#111" stroke="#111" stroke-width="0.28">0</text>
<line x1="314.09999999999997" y1="133.6" x2="316.7" y2="133.6" stroke="#000" stroke-width="1"/>
<text x="312.5" y="136.9" font-size="7.7" text-anchor="end" fill="#111" stroke="#111" stroke-width="0.28">25</text>
<line x1="314.09999999999997" y1="101.6" x2="316.7" y2="101.6" stroke="#000" stroke-width="1"/>
<text x="312.5" y="104.89999999999999" font-size="7.7" text-anchor="end" fill="#111" stroke="#111" stroke-width="0.28">50</text>
<line x1="314.09999999999997" y1="69.6" x2="316.7" y2="69.6" stroke="#000" stroke-width="1"/>
<text x="312.5" y="72.89999999999999" font-size="7.7" text-anchor="end" fill="#111" stroke="#111" stroke-width="0.28">75</text>
<line x1="314.09999999999997" y1="37.599999999999994" x2="316.7" y2="37.599999999999994" stroke="#000" stroke-width="1"/>
<text x="312.5" y="40.89999999999999" font-size="7.7" text-anchor="end" fill="#111" stroke="#111" stroke-width="0.28">100</text>
<rect x="321.2" y="60.69999999999999" width="16.900000000000013" height="104.9" fill="#fff" stroke="#000" stroke-width="1.4"/>
<rect x="320.5" y="131.04" width="18.30000000000001" height="34.56" fill="#000"/>
<line x1="329.65" y1="165.6" x2="329.65" y2="168.1" stroke="#000" stroke-width="1"/>
<text x="318.6" y="176.6" font-size="8" text-anchor="start" fill="#111" stroke="#111" stroke-width="0.28">PBMC</text>
<rect x="347.9" y="46.61999999999999" width="17.200000000000024" height="118.98" fill="#fff" stroke="#000" stroke-width="1.4"/>
<rect x="347.2" y="48.86399999999999" width="18.600000000000023" height="116.736" fill="#000"/>
<line x1="356.5" y1="165.6" x2="356.5" y2="168.1" stroke="#000" stroke-width="1"/>
<text x="346.2" y="176.6" font-size="8" text-anchor="start" fill="#111" stroke="#111" stroke-width="0.28">SFMC</text>
<path d="M314.09999999999997 37.6H316.7V165.6H370.3" fill="none" stroke="#000" stroke-width="1.3"/>
<text x="297.3" y="99.8" font-size="9.4" text-anchor="middle" fill="#111" transform="rotate(-90 297.3 99.8)" stroke="#111" stroke-width="0.28">% of CD4<tspan dy="-7.05" font-size="5.45">+</tspan></text>
<text x="385.5" y="12.1" font-size="13.6" text-anchor="start" font-weight="bold" fill="#000" stroke="#000" stroke-width="0.12">C</text>
<line x1="420.59999999999997" y1="165.6" x2="423.2" y2="165.6" stroke="#000" stroke-width="1"/>
<text x="419.0" y="168.9" font-size="7.7" text-anchor="end" fill="#111" stroke="#111" stroke-width="0.28">0</text>
<line x1="420.59999999999997" y1="133.6" x2="423.2" y2="133.6" stroke="#000" stroke-width="1"/>
<text x="419.0" y="136.9" font-size="7.7" text-anchor="end" fill="#111" stroke="#111" stroke-width="0.28">25</text>
<line x1="420.59999999999997" y1="101.6" x2="423.2" y2="101.6" stroke="#000" stroke-width="1"/>
<text x="419.0" y="104.89999999999999" font-size="7.7" text-anchor="end" fill="#111" stroke="#111" stroke-width="0.28">50</text>
<line x1="420.59999999999997" y1="69.6" x2="423.2" y2="69.6" stroke="#000" stroke-width="1"/>
<text x="419.0" y="72.89999999999999" font-size="7.7" text-anchor="end" fill="#111" stroke="#111" stroke-width="0.28">75</text>
<line x1="420.59999999999997" y1="37.599999999999994" x2="423.2" y2="37.599999999999994" stroke="#000" stroke-width="1"/>
<text x="419.0" y="40.89999999999999" font-size="7.7" text-anchor="end" fill="#111" stroke="#111" stroke-width="0.28">100</text>
<rect x="428.09999999999997" y="67.1" width="16.900000000000013" height="98.5" fill="#fff" stroke="#000" stroke-width="1.4"/>
<rect x="427.4" y="152.79999999999998" width="18.30000000000001" height="12.800000000000011" fill="#000"/>
<line x1="436.54999999999995" y1="165.6" x2="436.54999999999995" y2="168.1" stroke="#000" stroke-width="1"/>
<text x="425.1" y="176.6" font-size="8" text-anchor="start" fill="#111" stroke="#111" stroke-width="0.28">PBMC</text>
<rect x="454.9" y="84.764" width="16.700000000000024" height="80.836" fill="#fff" stroke="#000" stroke-width="1.4"/>
<rect x="454.2" y="104.16" width="18.100000000000023" height="61.44" fill="#000"/>
<line x1="463.25" y1="165.6" x2="463.25" y2="168.1" stroke="#000" stroke-width="1"/>
<text x="452.8" y="176.6" font-size="8" text-anchor="start" fill="#111" stroke="#111" stroke-width="0.28">SFMC</text>
<path d="M420.59999999999997 37.6H423.2V165.6H476.8" fill="none" stroke="#000" stroke-width="1.3"/>
<text x="404.2" y="99.8" font-size="9.4" text-anchor="middle" fill="#111" transform="rotate(-90 404.2 99.8)" stroke="#111" stroke-width="0.28">% of CD8<tspan dy="-7.05" font-size="5.45">+</tspan></text>
<rect x="301.3" y="191.3" width="9.5" height="7" fill="#fff" stroke="#000" stroke-width="1.2"/>
<text x="318" y="198.3" font-size="9" text-anchor="start" fill="#111" stroke="#111" stroke-width="0.28">CD45RA<tspan dy="-6.75" font-size="5.22">+</tspan><tspan dy="6.75" dx="-0.4">CD45RO</tspan><tspan dy="-6.75" font-size="5.22">-</tspan></text>
<rect x="408" y="190.8" width="11.2" height="8" fill="#000"/>
<text x="425" y="198.3" font-size="9" text-anchor="start" fill="#111" stroke="#111" stroke-width="0.28">CD45RA<tspan dy="-6.75" font-size="5.22">-</tspan><tspan dy="6.75" dx="0.9">CD45RO</tspan><tspan dy="-6.75" font-size="5.22">+</tspan></text>
<text x="4.6" y="281.4" font-size="13.6" text-anchor="start" font-weight="bold" fill="#000" stroke="#000" stroke-width="0.12">D</text>
<path d="M29.2 301.9V400.1H441.9" fill="none" stroke="#000" stroke-width="1.5"/>
<line x1="29.2" y1="309.2" x2="31.8" y2="309.2" stroke="#222" stroke-width="0.8"/>
<text x="33.2" y="311.3" font-size="6.1" text-anchor="start" fill="#000" stroke="#000" stroke-width="0.12">1250</text>
<line x1="29.2" y1="325.03999999999996" x2="31.8" y2="325.03999999999996" stroke="#222" stroke-width="0.8"/>
<text x="33.2" y="327.14" font-size="6.1" text-anchor="start" fill="#000" stroke="#000" stroke-width="0.12">1000</text>
<line x1="29.2" y1="340.88" x2="31.8" y2="340.88" stroke="#222" stroke-width="0.8"/>
<text x="33.2" y="342.98" font-size="6.1" text-anchor="start" fill="#000" stroke="#000" stroke-width="0.12">750</text>
<line x1="29.2" y1="356.71999999999997" x2="31.8" y2="356.71999999999997" stroke="#222" stroke-width="0.8"/>
<text x="33.2" y="358.82" font-size="6.1" text-anchor="start" fill="#000" stroke="#000" stroke-width="0.12">500</text>
<line x1="29.2" y1="372.56" x2="31.8" y2="372.56" stroke="#222" stroke-width="0.8"/>
<text x="33.2" y="374.66" font-size="6.1" text-anchor="start" fill="#000" stroke="#000" stroke-width="0.12">250</text>
<line x1="29.2" y1="388.4" x2="31.8" y2="388.4" stroke="#222" stroke-width="0.8"/>
<text x="33.2" y="390.5" font-size="6.1" text-anchor="start" fill="#000" stroke="#000" stroke-width="0.12">0</text>
<text x="22.5" y="351.3" font-size="10" text-anchor="middle" fill="#111" transform="rotate(-90 22.5 351.3)" stroke="#111" stroke-width="0.28">Counts</text>
<text x="220.8" y="412" font-size="10.5" text-anchor="start" fill="#111" stroke="#111" stroke-width="0.28">CFSE</text>
<text x="94.1" y="290.8" font-size="9.1" text-anchor="start" fill="#111" stroke="#111" stroke-width="0.28">CD25<tspan dy="-6.82" font-size="5.28">-</tspan></text>
<text x="190.8" y="290.8" font-size="9.1" text-anchor="start" fill="#111" stroke="#111" stroke-width="0.28">CD25<tspan dy="-6.82" font-size="5.28">-</tspan><tspan dy="6.82" dx="0.9">CD45RA</tspan><tspan dy="-6.82" font-size="5.28">+</tspan><tspan dy="6.82" dx="-0.4">CD45RO</tspan><tspan dy="-6.82" font-size="5.28">-</tspan></text>
<text x="330.5" y="290.8" font-size="9.1" text-anchor="start" fill="#111" stroke="#111" stroke-width="0.28">CD25<tspan dy="-6.82" font-size="5.28">-</tspan><tspan dy="6.82" dx="0.9">CD45RA</tspan><tspan dy="-6.82" font-size="5.28">-</tspan><tspan dy="6.82" dx="0.9">CD45RO</tspan><tspan dy="-6.82" font-size="5.28">+</tspan></text>
<path d="M49.1 388.3C49.6 388.1 50.2 387.1 52.0 386.8C53.8 386.5 57.0 386.5 60.0 386.5C63.0 386.5 66.7 386.9 70.0 386.9C73.3 386.9 76.7 386.6 80.0 386.6C83.3 386.6 86.7 386.9 90.0 386.9C93.3 386.9 97.5 386.6 100.0 386.5C102.5 386.4 103.4 386.6 105.0 386.6C106.6 386.6 107.9 386.8 109.4 386.6C110.9 386.5 112.1 386.0 113.8 385.7C115.5 385.4 117.9 385.1 119.6 384.6C121.3 384.1 122.5 383.4 124.0 382.7C125.5 382.0 127.1 380.8 128.4 380.2C129.8 379.6 130.9 379.4 132.1 379.1C133.3 378.8 134.7 379.3 135.7 378.3C136.7 377.3 137.2 376.0 137.9 373.2C138.6 370.4 139.4 366.6 140.1 361.5C140.8 356.4 141.6 347.6 142.3 342.5C143.0 337.4 143.8 333.3 144.5 330.7C145.2 328.1 146.0 327.1 146.7 327.1C147.4 327.1 148.2 328.1 148.9 330.7C149.6 333.3 150.4 337.4 151.1 342.5C151.8 347.6 152.6 355.9 153.3 361.5C154.0 367.1 154.7 372.3 155.5 376.1C156.3 379.9 157.3 382.3 158.4 384.2C159.5 386.1 161.0 386.9 162.1 387.6C163.2 388.3 164.5 388.2 165.0 388.3Z" fill="#000" stroke="#000" stroke-width="0.6"/>
<path d="M49.1 388.3C49.4 385.8 50.2 380.6 50.9 373.2C51.6 365.8 52.4 351.0 53.1 343.9C53.8 336.8 54.6 333.6 55.2 330.7C55.8 327.8 56.1 327.5 56.7 326.4C57.3 325.3 58.3 324.8 58.9 324.2C59.5 323.6 59.8 324.0 60.4 322.7C61.0 321.4 61.7 318.6 62.6 316.1C63.5 313.6 65.1 308.1 65.9 307.6C66.8 307.1 67.2 311.3 67.7 313.2C68.2 315.1 68.6 317.7 69.2 319.0C69.8 320.3 70.8 320.5 71.4 321.2C72.0 321.9 72.3 323.0 72.8 323.1C73.3 323.2 73.6 322.7 74.3 322.0C75.0 321.3 76.2 318.7 76.9 318.7C77.6 318.7 78.0 320.2 78.7 322.0C79.4 323.8 80.2 327.4 80.9 329.3C81.6 331.2 82.4 332.9 83.1 333.7C83.8 334.5 84.4 334.6 85.3 334.4C86.2 334.1 87.1 332.1 88.2 332.2C89.3 332.3 90.8 333.6 91.9 335.1C93.0 336.6 93.8 339.0 94.8 341.0C95.8 343.0 96.8 346.0 97.7 346.9C98.6 347.8 99.2 346.6 99.9 346.1C100.6 345.6 101.4 344.3 102.1 343.9C102.8 343.5 103.6 343.6 104.3 343.9C105.0 344.1 105.8 344.2 106.5 345.4C107.2 346.6 108.0 349.2 108.7 351.2C109.4 353.1 110.2 355.8 110.9 357.1C111.6 358.5 111.9 359.3 112.6 359.3C113.3 359.3 114.2 358.1 115.0 357.1C115.8 356.1 116.6 353.6 117.4 353.4C118.2 353.1 118.6 354.0 119.6 355.6C120.6 357.2 122.1 361.1 123.3 363.0C124.5 364.9 125.9 367.1 127.0 367.3C128.1 367.5 128.9 365.7 129.9 364.4C130.9 363.1 131.8 359.9 132.8 359.3C133.8 358.7 134.7 360.3 135.7 360.8C136.7 361.3 138.0 362.6 138.7 362.2C139.4 361.8 139.6 362.4 140.1 358.6C140.6 354.8 141.0 345.4 141.6 339.5C142.2 333.6 143.1 327.7 143.8 323.4C144.5 319.1 145.4 315.8 146.0 313.9C146.6 311.9 147.0 311.7 147.5 311.7C148.0 311.7 148.3 311.9 148.9 313.9C149.5 315.8 150.4 318.9 151.1 323.4C151.8 327.9 152.6 334.6 153.3 341.0C154.0 347.4 154.8 355.4 155.5 361.5C156.2 367.6 156.8 373.6 157.7 377.6C158.5 381.6 159.4 383.9 160.6 385.7C161.8 387.5 164.3 387.9 165.0 388.3" fill="none" stroke="#111" stroke-width="1.1"/>
<line x1="49.1" y1="388.3" x2="165" y2="388.3" stroke="#000" stroke-width="1"/>
<path d="M184.6 388.2C185.2 387.9 185.4 387.0 188.0 386.7C190.6 386.4 195.5 386.6 200.0 386.6C204.5 386.6 210.0 386.9 215.0 386.9C220.0 386.9 225.0 386.7 230.0 386.6C235.0 386.6 241.7 386.6 245.0 386.6C248.3 386.6 248.1 386.5 250.0 386.4C251.9 386.3 254.1 386.1 256.2 385.9C258.2 385.7 260.2 385.5 262.3 385.1C264.4 384.7 266.7 384.2 268.5 383.6C270.3 383.0 271.7 382.0 273.1 381.3C274.5 380.6 275.9 380.1 277.0 379.7C278.1 379.3 279.2 380.3 280.0 379.0C280.8 377.7 281.0 376.2 281.6 372.0C282.2 367.8 283.1 360.0 283.9 353.6C284.7 347.2 285.4 339.1 286.2 333.5C287.0 327.9 287.9 322.5 288.5 319.7C289.1 316.9 289.3 316.4 289.8 316.6C290.3 316.9 290.9 317.6 291.6 321.2C292.3 324.8 293.1 331.7 293.9 338.1C294.7 344.5 295.4 353.0 296.2 359.7C297.0 366.4 297.7 373.6 298.5 378.2C299.3 382.8 300.3 385.7 300.8 387.4C301.3 389.1 301.5 388.1 301.6 388.2Z" fill="#000" stroke="#000" stroke-width="0.6"/>
<path d="M184.6 388.2C185.0 386.6 186.1 381.9 186.9 378.5C187.7 375.1 188.4 370.7 189.2 367.7C190.0 364.7 190.7 362.0 191.5 360.3C192.3 358.6 193.0 358.6 193.8 357.7C194.6 356.8 195.5 356.1 196.2 355.1C196.8 354.2 197.2 352.5 197.7 352.0C198.2 351.5 198.6 352.6 199.2 352.3C199.8 352.0 200.7 351.0 201.5 350.0C202.3 349.0 202.8 347.8 203.8 346.2C204.8 344.6 206.4 340.6 207.4 340.3C208.4 340.0 209.1 343.3 210.0 344.6C210.9 345.9 212.2 347.9 213.1 348.0C214.0 348.1 214.6 347.1 215.4 345.4C216.2 343.7 216.9 339.5 217.7 337.7C218.5 335.9 219.5 334.7 220.3 334.6C221.1 334.5 221.6 335.2 222.3 336.9C223.0 338.6 223.8 342.4 224.6 344.6C225.4 346.8 226.0 349.9 226.9 350.0C227.8 350.1 229.0 347.1 230.0 345.4C231.0 343.7 232.2 340.2 233.1 339.7C234.0 339.2 234.6 340.2 235.4 342.3C236.2 344.4 236.8 349.4 237.7 352.3C238.6 355.2 239.9 358.8 240.8 359.7C241.7 360.6 242.3 359.6 243.1 357.7C243.9 355.8 244.6 350.4 245.4 348.5C246.2 346.6 246.9 345.8 247.7 346.2C248.5 346.6 249.2 348.8 250.0 350.8C250.8 352.8 251.5 356.0 252.3 358.2C253.1 360.4 253.8 363.2 254.6 364.0C255.4 364.8 255.7 364.4 256.9 362.8C258.1 361.2 260.3 354.8 261.6 354.3C262.9 353.8 263.5 357.2 264.6 359.7C265.8 362.1 267.3 368.0 268.5 369.0C269.7 370.0 270.3 367.4 271.6 365.9C272.9 364.3 275.1 360.3 276.2 359.7C277.3 359.1 277.7 361.1 278.5 362.0C279.3 362.9 280.0 365.5 280.8 365.1C281.6 364.7 282.3 365.0 283.1 359.7C283.9 354.4 284.6 341.2 285.4 333.5C286.2 325.8 287.0 318.2 287.8 313.5C288.6 308.8 289.3 305.0 290.1 305.0C290.9 305.0 291.6 308.8 292.4 313.5C293.2 318.2 293.9 325.8 294.7 333.5C295.5 341.2 296.2 351.7 297.0 359.7C297.8 367.7 298.5 376.6 299.3 381.3C300.1 386.1 301.2 387.1 301.6 388.2" fill="none" stroke="#111" stroke-width="1.1"/>
<line x1="184.6" y1="388.3" x2="301.6" y2="388.3" stroke="#000" stroke-width="1"/>
<path d="M325.2 388.3C325.8 387.6 327.6 385.4 328.6 384.2C329.7 383.0 330.4 382.0 331.5 381.3C332.6 380.6 333.8 380.1 335.2 379.8C336.6 379.6 337.9 380.0 339.6 379.8C341.3 379.6 343.4 378.7 345.4 378.8C347.3 378.9 349.1 380.1 351.3 380.2C353.5 380.3 356.4 379.3 358.6 379.4C360.8 379.5 362.8 380.4 364.5 380.8C366.2 381.2 367.4 381.4 368.9 381.7C370.3 382.0 371.8 382.4 373.2 382.7C374.6 383.0 375.9 383.6 377.6 383.7C379.3 383.8 381.8 383.4 383.5 383.5C385.2 383.6 386.5 384.0 387.9 384.2C389.3 384.4 390.7 384.6 392.0 384.6C393.3 384.6 394.1 384.0 395.5 384.0C396.9 384.0 398.9 384.8 400.7 384.7C402.4 384.6 404.2 383.8 406.0 383.4C407.8 383.0 409.8 382.4 411.2 382.1C412.6 381.8 413.6 382.0 414.5 381.4C415.4 380.8 415.9 380.0 416.5 378.2C417.1 376.4 417.8 373.4 418.4 370.3C419.0 367.2 419.7 364.0 420.4 359.8C421.1 355.6 421.8 349.3 422.4 345.4C423.0 341.5 423.6 338.3 424.3 336.2C425.0 334.1 425.9 332.5 426.7 332.5C427.5 332.5 428.2 333.8 428.9 336.2C429.6 338.6 430.2 342.3 430.9 346.7C431.5 351.1 432.1 357.6 432.8 362.4C433.5 367.2 434.1 372.1 434.8 375.5C435.5 378.9 436.2 380.9 436.8 382.7C437.4 384.4 437.9 385.0 438.7 386.0C439.5 387.0 440.9 388.2 441.4 388.6Z" fill="#000" stroke="#000" stroke-width="0.6"/>
<path d="M325.2 387.8C325.5 384.9 326.4 376.9 327.1 370.3C327.8 363.7 328.5 355.4 329.3 348.3C330.1 341.2 331.4 332.6 332.2 327.8C333.0 323.1 333.7 321.8 334.4 319.8C335.1 317.9 335.9 317.0 336.6 316.1C337.3 315.2 338.1 314.8 338.8 314.6C339.5 314.4 340.3 315.1 341.0 314.9C341.7 314.7 342.5 314.0 343.2 313.2C343.9 312.4 344.7 310.8 345.4 310.0C346.1 309.2 346.6 308.2 347.2 308.5C347.8 308.8 348.4 309.7 349.1 311.7C349.8 313.7 350.6 318.4 351.3 320.5C352.0 322.6 352.8 324.2 353.5 324.2C354.2 324.2 354.8 322.4 355.7 320.5C356.6 318.6 357.8 313.6 358.6 312.9C359.4 312.2 359.7 313.4 360.4 316.1C361.1 318.8 362.1 325.0 363.0 329.3C363.9 333.6 365.0 340.5 365.9 341.7C366.8 342.9 367.2 338.4 368.1 336.6C369.0 334.8 370.1 331.2 371.0 330.7C371.9 330.2 372.5 331.5 373.2 333.7C373.9 335.9 374.7 341.0 375.4 343.9C376.1 346.8 376.9 349.4 377.6 351.2C378.3 353.0 378.9 354.8 379.8 354.9C380.7 355.0 381.8 352.9 382.8 352.0C383.8 351.1 385.0 349.8 385.7 349.8C386.4 349.8 386.4 350.2 387.0 351.9C387.6 353.6 388.6 357.4 389.6 359.8C390.6 362.2 391.9 365.8 392.9 366.4C393.9 367.0 394.6 364.4 395.5 363.7C396.4 363.0 397.2 362.4 398.1 362.4C399.0 362.4 399.8 362.7 400.7 363.7C401.6 364.7 402.3 367.0 403.3 368.3C404.3 369.6 405.6 371.4 406.6 371.6C407.6 371.8 408.2 370.4 409.2 369.6C410.2 368.8 411.6 367.2 412.5 367.0C413.4 366.8 413.8 367.9 414.5 368.3C415.2 368.7 415.9 369.9 416.5 369.6C417.1 369.3 417.8 367.9 418.4 366.4C419.0 364.9 420.1 361.5 420.4 360.5" fill="none" stroke="#111" stroke-width="1.1"/>
<line x1="325.2" y1="388.3" x2="441.4" y2="388.3" stroke="#000" stroke-width="1"/>
<text x="86.3" y="378" font-size="10" text-anchor="start" font-weight="bold" fill="#111" stroke="#111" stroke-width="0.12">68%</text>
<text x="227.4" y="378.5" font-size="10" text-anchor="start" font-weight="bold" fill="#111" stroke="#111" stroke-width="0.12">74%</text>
<text x="378" y="378" font-size="10" text-anchor="start" font-weight="bold" fill="#111" stroke="#111" stroke-width="0.12">45%</text>
<rect x="453.1" y="353.1" width="9.8" height="7.8" fill="#fff" stroke="#000" stroke-width="1.3"/>
<text x="470" y="361.5" font-size="10" text-anchor="start" fill="#111" stroke="#111" stroke-width="0.28">Teff</text>
<rect x="452.5" y="370.2" width="11" height="8.5" fill="#000"/>
<text x="470" y="379" font-size="10" text-anchor="start" fill="#111" stroke="#111" stroke-width="0.28">Teff + Treg</text>
<text x="5.6" y="448.8" font-size="13.6" text-anchor="start" font-weight="bold" fill="#000" stroke="#000" stroke-width="0.12">E</text>
<line x1="30.3" y1="629.8" x2="33.8" y2="629.8" stroke="#000" stroke-width="1"/>
<text x="28.2" y="632.3" font-size="7.6" text-anchor="end" fill="#111" stroke="#111" stroke-width="0.28">0</text>
<line x1="30.3" y1="596.76" x2="33.8" y2="596.76" stroke="#000" stroke-width="1"/>
<text x="28.2" y="599.26" font-size="7.6" text-anchor="end" fill="#111" stroke="#111" stroke-width="0.28">20</text>
<line x1="30.3" y1="563.72" x2="33.8" y2="563.72" stroke="#000" stroke-width="1"/>
<text x="28.2" y="566.22" font-size="7.6" text-anchor="end" fill="#111" stroke="#111" stroke-width="0.28">40</text>
<line x1="30.3" y1="530.6800000000001" x2="33.8" y2="530.6800000000001" stroke="#000" stroke-width="1"/>
<text x="28.2" y="533.1800000000001" font-size="7.6" text-anchor="end" fill="#111" stroke="#111" stroke-width="0.28">60</text>
<line x1="30.3" y1="497.64" x2="33.8" y2="497.64" stroke="#000" stroke-width="1"/>
<text x="28.2" y="500.14" font-size="7.6" text-anchor="end" fill="#111" stroke="#111" stroke-width="0.28">80</text>
<line x1="30.3" y1="464.6" x2="33.8" y2="464.6" stroke="#000" stroke-width="1"/>
<text x="28.2" y="467.1" font-size="7.6" text-anchor="end" fill="#111" stroke="#111" stroke-width="0.28">100</text>
<text x="8.1" y="540.8" font-size="9.5" text-anchor="middle" fill="#111" transform="rotate(-90 8.1 540.8)" stroke="#111" stroke-width="0.28">Suppression (%)</text>
<rect x="44.85" y="465.25" width="11.7" height="164.54999999999993" fill="#000" stroke="#000" stroke-width="1.3"/>
<rect x="59.05" y="465.25" width="11.3" height="164.54999999999993" fill="#8f8f8f" stroke="#000" stroke-width="1.3"/>
<rect x="73.45" y="510.1844" width="11.300000000000008" height="119.61559999999994" fill="#fff" stroke="#000" stroke-width="1.3"/>
<line x1="111.69999999999999" y1="464.9304000000001" x2="111.69999999999999" y2="466.91280000000006" stroke="#000" stroke-width="1.1"/>
<line x1="108.1" y1="464.9304000000001" x2="115.29999999999998" y2="464.9304000000001" stroke="#000" stroke-width="1.4"/>
<rect x="105.95" y="467.56280000000004" width="11.499999999999996" height="162.2371999999999" fill="#000" stroke="#000" stroke-width="1.3"/>
<rect x="120.25" y="465.25" width="11.799999999999994" height="164.54999999999993" fill="#8f8f8f" stroke="#000" stroke-width="1.3"/>
<line x1="140.5" y1="486.5716" x2="140.5" y2="495.6576" stroke="#000" stroke-width="1.1"/>
<line x1="136.9" y1="486.5716" x2="144.1" y2="486.5716" stroke="#000" stroke-width="1.4"/>
<rect x="135.15" y="496.3076" width="10.7" height="133.49239999999995" fill="#fff" stroke="#000" stroke-width="1.3"/>
<rect x="167.85" y="487.552" width="11.100000000000005" height="142.2479999999999" fill="#000" stroke="#000" stroke-width="1.3"/>
<line x1="187.65" y1="479.96360000000004" x2="187.65" y2="492.0232" stroke="#000" stroke-width="1.1"/>
<line x1="184.05" y1="479.96360000000004" x2="191.25" y2="479.96360000000004" stroke="#000" stroke-width="1.4"/>
<rect x="181.95000000000002" y="492.67319999999995" width="11.399999999999988" height="137.12679999999997" fill="#8f8f8f" stroke="#000" stroke-width="1.3"/>
<line x1="202.4" y1="504.7436" x2="202.4" y2="510.5256" stroke="#000" stroke-width="1.1"/>
<line x1="198.8" y1="504.7436" x2="206.0" y2="504.7436" stroke="#000" stroke-width="1.4"/>
<rect x="196.95000000000002" y="511.1756" width="10.899999999999988" height="118.62439999999995" fill="#fff" stroke="#000" stroke-width="1.3"/>
<rect x="229.15" y="465.25" width="11.399999999999988" height="164.54999999999993" fill="#000" stroke="#000" stroke-width="1.3"/>
<rect x="243.75" y="465.25" width="11.400000000000016" height="164.54999999999993" fill="#8f8f8f" stroke="#000" stroke-width="1.3"/>
<line x1="263.85" y1="464.9304000000001" x2="263.85" y2="475.6684" stroke="#000" stroke-width="1.1"/>
<line x1="260.25" y1="464.9304000000001" x2="267.45000000000005" y2="464.9304000000001" stroke="#000" stroke-width="1.4"/>
<rect x="257.84999999999997" y="476.3184" width="12.00000000000001" height="153.48159999999993" fill="#fff" stroke="#000" stroke-width="1.3"/>
<path d="M30.3 464.6H33.8V629.8H282.2" fill="none" stroke="#000" stroke-width="1.3"/>
<text x="55.6" y="644.3" font-size="10.2" text-anchor="start" fill="#111" stroke="#111" stroke-width="0.28">IL-5</text>
<text x="112.6" y="644.3" font-size="10.2" text-anchor="start" fill="#111" stroke="#111" stroke-width="0.28">IL-13</text>
<text x="175.6" y="644.3" font-size="10.2" text-anchor="start" fill="#111" stroke="#111" stroke-width="0.28">TNF&#945;</text>
<text x="240.4" y="644.3" font-size="10.2" text-anchor="start" fill="#111" stroke="#111" stroke-width="0.28">IFN&#947;</text>
<rect x="290.2" y="558.3" width="11" height="8.4" fill="#000"/>
<rect x="290.8" y="579.4" width="9.8" height="7.5" fill="#8f8f8f" stroke="#000" stroke-width="1.2"/>
<rect x="290.8" y="600" width="9.8" height="7.3" fill="#fff" stroke="#000" stroke-width="1.2"/>
<text x="307.3" y="566.2" font-size="10.3" text-anchor="start" fill="#111" stroke="#111" stroke-width="0.28">CD25<tspan dy="-7.73" font-size="5.97">-</tspan></text>
<text x="307.3" y="586.8" font-size="10.3" text-anchor="start" fill="#111" stroke="#111" stroke-width="0.28">CD25<tspan dy="-7.73" font-size="5.97">-</tspan><tspan dy="7.73" dx="0.9">CD45RA</tspan><tspan dy="-7.73" font-size="5.97">+</tspan><tspan dy="7.73" dx="-0.4">CD45RO</tspan><tspan dy="-7.73" font-size="5.97">-</tspan></text>
<text x="307.3" y="607.3" font-size="10.3" text-anchor="start" fill="#111" stroke="#111" stroke-width="0.28">CD25<tspan dy="-7.73" font-size="5.97">-</tspan><tspan dy="7.73" dx="0.9">CD45RA</tspan><tspan dy="-7.73" font-size="5.97">-</tspan><tspan dy="7.73" dx="0.9">CD45RO</tspan><tspan dy="-7.73" font-size="5.97">+</tspan></text>
</g>
</svg></body></html>
